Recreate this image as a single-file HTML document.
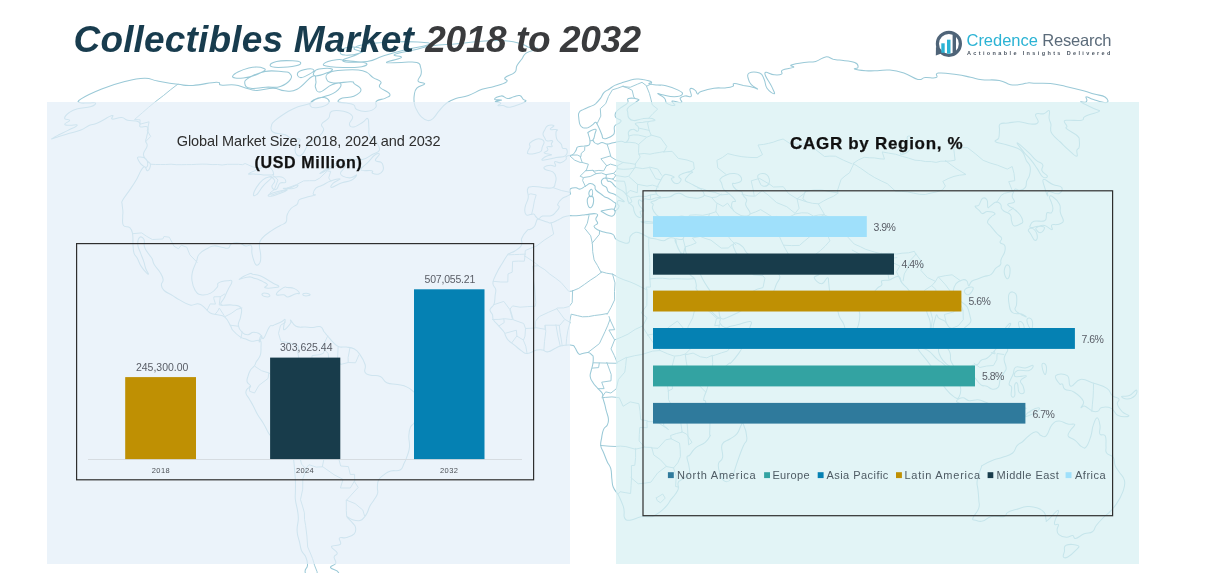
<!DOCTYPE html>
<html lang="en">
<head>
<meta charset="utf-8">
<title>Collectibles Market 2018 to 2032</title>
<style>
html,body{margin:0;padding:0;background:#fff;}
body{width:1231px;height:573px;position:relative;overflow:hidden;font-family:"Liberation Sans",Arial,sans-serif;}
.abs{position:absolute;white-space:nowrap;line-height:1;}
#map{position:absolute;left:0;top:0;width:1231px;height:573px;}
.panel{position:absolute;}
#pl{left:47px;top:101.5px;width:522.5px;height:462px;background:rgba(227,238,248,0.72);}
#pr{left:616px;top:101.5px;width:523px;height:462px;background:rgba(215,240,242,0.72);}
.frame{position:absolute;border:1.3px solid #333;box-sizing:border-box;}
#fl{left:76px;top:243px;width:458.5px;height:237.5px;}
#fr{left:642.5px;top:189.5px;width:471px;height:327px;}
.bar{position:absolute;}
.dl{font-size:10.5px;color:#595d66;}
.yl{font-size:7.5px;color:#4a4f55;letter-spacing:0.4px;}
.lg{font-size:11px;color:#4d5a63;}
.mk{position:absolute;width:6px;height:6px;top:472px;}
</style>
</head>
<body>
<!--MAPSTART--><svg id="map" width="1231" height="573" viewBox="0 0 1231 573" fill="none" stroke-linejoin="round" stroke-linecap="round">
<path stroke="#9ac9d7" stroke-width="1.05" d="M349.1 47.2C354.3 46.6 360.2 47.8 362.8 49.1C365.3 50.5 364.2 51.5 360.1 52.9C356.0 54.3 349.7 55.4 345.1 55.1C340.6 54.7 339.6 53.3 340.5 51.4C341.4 49.6 343.9 47.7 349.1 47.2Z M358.4 70.1C363.4 70.6 363.3 70.7 366.8 72.4C370.2 74.2 369.9 75.4 373.1 77.6C376.4 79.8 379.3 79.6 380.8 81.8C382.4 84.0 377.8 84.4 379.8 87.2C381.9 89.9 388.3 91.2 389.6 93.7C391.0 96.3 388.6 96.4 385.5 98.1C382.5 99.9 378.8 98.9 376.5 101.1C374.2 103.3 377.7 105.2 375.6 107.5C373.5 109.9 371.9 110.9 367.4 111.3C363.0 111.8 359.9 110.9 356.7 109.4C353.5 107.9 356.2 106.4 353.7 104.9C351.3 103.4 349.8 103.7 346.2 103.0C342.6 102.3 339.2 103.0 338.3 101.9C337.4 100.7 338.8 99.4 342.4 98.1C346.0 96.8 349.4 98.2 353.8 96.3C358.1 94.4 360.9 92.9 361.0 90.1C361.2 87.2 356.9 85.9 354.5 83.9C352.1 82.0 355.7 82.1 350.8 81.8C345.8 81.6 339.1 83.6 333.4 82.9C327.7 82.1 327.2 81.1 326.4 78.7C325.5 76.2 325.4 74.4 329.8 72.4C334.2 70.4 338.7 70.6 345.4 70.1C352.0 69.5 353.4 69.5 358.4 70.1Z M232.7 75.9C233.9 73.6 241.5 69.8 248.8 68.0C256.1 66.3 261.2 67.2 263.9 68.4C266.6 69.6 265.0 70.9 260.2 73.1C255.4 75.4 249.8 77.3 243.4 78.0C237.0 78.6 231.4 78.2 232.7 75.9Z M239.4 279.1C240.5 278.1 246.4 274.9 249.5 273.7C252.7 272.6 250.4 273.7 252.8 274.2C255.3 274.6 256.7 274.4 260.1 275.7C263.4 276.9 263.9 277.7 267.0 279.5C270.0 281.3 270.5 281.8 273.2 283.3C275.9 284.8 278.2 285.1 278.7 286.1C279.1 287.1 278.4 287.2 275.3 287.6C272.1 288.0 267.0 288.5 265.1 287.8C263.3 287.1 267.9 286.0 267.4 284.6C266.9 283.1 264.8 282.7 263.0 281.6C261.1 280.5 261.5 280.7 259.4 279.9C257.4 279.1 256.2 278.9 254.1 278.2C252.0 277.5 252.7 277.0 250.5 276.9C248.4 276.8 247.4 277.3 244.8 277.8C242.2 278.3 238.3 280.0 239.4 279.1Z M323.6 64.0C322.3 65.6 325.6 65.9 330.8 66.7C335.9 67.5 338.3 67.4 345.5 67.4C352.8 67.4 357.1 67.7 361.7 66.7C366.4 65.7 368.7 64.4 365.5 63.1C362.3 61.7 354.6 61.5 347.9 60.8C341.1 60.0 342.2 59.0 336.5 59.8C330.9 60.6 325.0 62.4 323.6 64.0Z M342.8 60.8C344.5 62.7 357.8 62.5 367.2 61.4C376.6 60.3 374.5 58.7 383.1 56.0C391.8 53.3 393.6 52.7 404.3 50.0C414.9 47.3 425.7 46.4 428.9 44.5C432.1 42.6 426.9 42.6 418.0 42.0C409.2 41.4 403.4 41.4 391.0 42.0C378.5 42.6 373.2 43.0 364.6 44.5C356.1 46.0 355.2 46.6 354.1 48.6C353.1 50.5 362.7 50.1 360.1 52.9C357.4 55.8 341.2 58.8 342.8 60.8Z M386.4 62.4C386.3 61.3 399.3 59.4 401.2 57.6C403.1 55.7 391.7 56.2 394.6 54.5C397.5 52.7 405.0 52.0 413.8 50.0C422.5 48.0 422.0 47.3 432.1 45.8C442.2 44.4 445.5 44.8 457.1 43.7C468.7 42.7 470.7 41.9 481.8 41.2C492.8 40.5 495.4 40.2 504.5 40.8C513.7 41.3 515.3 42.2 521.0 43.7C526.6 45.2 524.8 46.0 528.7 47.2C532.6 48.3 538.1 47.2 537.6 48.6C537.0 49.9 530.2 50.5 526.5 52.9C522.8 55.4 524.0 56.2 521.7 59.2C519.5 62.1 518.5 62.6 516.9 65.7C515.3 68.8 517.5 69.7 514.7 72.4C512.0 75.2 507.0 75.4 505.1 77.6C503.2 79.8 509.1 79.8 506.5 81.8C504.0 83.9 499.8 84.7 494.1 86.4C488.4 88.2 488.0 87.2 482.0 89.3C476.0 91.5 474.5 93.4 468.4 95.6C462.3 97.7 460.9 96.8 455.8 98.5C450.8 100.3 450.7 100.2 446.8 103.0C442.9 105.8 442.5 107.0 439.3 110.6C436.1 114.2 435.9 115.9 433.2 118.3C430.5 120.6 430.4 120.9 427.7 120.6C425.0 120.4 424.1 119.5 421.6 117.1C419.1 114.8 418.7 113.7 417.0 110.6C415.3 107.5 415.0 107.3 414.4 103.8C413.7 100.2 413.7 99.2 414.2 95.6C414.8 91.9 414.3 91.0 416.8 88.2C419.2 85.5 424.4 85.6 424.7 83.9C425.0 82.3 419.0 83.4 418.1 81.1C417.3 78.8 420.6 77.4 421.1 74.1C421.7 70.9 421.6 70.1 420.6 67.4C419.6 64.6 421.2 63.6 416.8 62.4C412.4 61.2 408.7 62.4 401.6 62.4C394.5 62.4 386.5 63.5 386.4 62.4Z M276.3 294.4C276.2 292.7 280.9 289.1 283.5 287.6C286.2 286.0 285.2 287.4 287.6 287.6C290.1 287.8 291.2 287.1 293.9 288.4C296.7 289.7 299.1 291.8 299.4 293.1C299.7 294.4 297.8 293.0 295.1 293.9C292.5 294.8 290.7 296.7 288.0 296.9C285.4 297.1 286.5 295.4 283.8 294.8C281.0 294.2 276.4 296.1 276.3 294.4Z M262.1 293.9C262.7 293.2 265.6 293.0 267.4 293.5C269.2 294.0 270.3 295.4 269.7 296.1C269.1 296.8 266.5 297.0 264.7 296.5C263.0 296.0 261.4 294.6 262.1 293.9Z M270.2 65.7C270.6 67.1 272.2 67.4 278.2 67.4C284.2 67.4 290.8 66.9 295.9 65.7C301.1 64.5 301.1 63.5 300.4 62.4C299.6 61.2 298.2 61.0 292.6 60.8C287.0 60.5 281.8 60.3 276.5 61.4C271.3 62.6 269.8 64.3 270.2 65.7Z M81.1 98.9C86.1 95.7 91.7 93.0 101.7 89.0C111.6 85.0 113.9 84.3 123.9 81.8C133.9 79.3 136.5 78.5 144.4 78.3C152.3 78.1 149.9 79.7 157.7 81.1C165.5 82.5 169.6 83.3 177.9 84.3C186.1 85.3 184.0 85.9 193.0 85.4C202.0 84.9 209.8 82.3 216.4 82.2C222.9 82.1 216.8 84.4 221.1 85.0C225.4 85.7 229.2 84.3 234.9 85.0C240.6 85.7 240.4 86.6 245.5 87.9C250.6 89.2 250.4 90.3 256.8 90.4C263.2 90.5 266.6 88.2 273.0 88.2C279.5 88.3 278.9 90.5 284.5 90.8C290.2 91.0 290.6 92.7 297.1 89.3C303.7 85.9 308.2 78.1 312.6 76.2C317.0 74.3 315.2 78.5 315.9 81.1C316.6 83.8 314.5 85.0 315.5 87.5C316.5 90.0 316.4 92.6 320.2 91.9C324.0 91.2 327.1 86.5 331.9 84.7C336.7 82.8 339.9 82.3 340.8 83.9C341.7 85.6 339.4 89.0 335.7 91.9C332.1 94.8 329.9 94.6 325.2 96.3C320.5 98.0 319.4 97.5 315.6 99.3C311.9 101.0 313.3 102.0 309.2 103.8C305.1 105.5 302.9 105.0 298.0 106.8C293.2 108.5 293.7 108.2 288.4 111.3C283.2 114.5 279.4 117.0 275.5 120.2C271.5 123.5 272.2 122.6 271.6 125.3C271.0 128.1 269.7 129.8 272.9 132.0C276.0 134.3 280.6 133.2 285.1 134.8C289.5 136.4 288.5 137.7 292.0 138.8C295.5 139.9 299.3 137.5 300.1 139.6C300.8 141.8 296.0 144.5 295.3 148.1C294.6 151.7 295.4 153.6 297.0 155.0C298.6 156.5 299.6 156.8 302.4 154.2C305.1 151.7 304.9 148.0 308.6 144.1C312.4 140.1 314.9 140.5 318.3 137.2C321.8 133.9 322.8 133.1 323.6 130.1C324.4 127.0 320.5 126.9 321.7 124.1C322.9 121.4 326.2 121.3 328.5 118.3C330.9 115.3 328.2 113.0 331.7 111.3C335.2 109.7 338.7 110.2 343.6 111.3C348.4 112.5 351.1 113.4 352.5 116.4C353.8 119.3 349.0 121.7 349.4 124.1C349.7 126.6 350.9 127.3 354.0 126.9C357.1 126.4 359.6 124.1 362.8 122.2C366.0 120.3 366.3 117.3 367.8 118.7C369.2 120.1 368.4 124.0 368.9 128.1C369.3 132.1 367.9 132.8 369.6 136.0C371.4 139.3 374.1 138.7 376.4 142.0C378.6 145.3 380.2 147.3 379.4 150.1C378.5 153.0 376.8 152.0 372.8 154.2C368.9 156.4 367.9 158.4 362.4 159.5C357.0 160.7 355.1 158.5 349.4 159.1C343.7 159.8 343.2 160.2 338.0 162.4C332.8 164.6 331.3 166.0 327.1 168.6C322.8 171.2 319.6 173.4 319.9 173.6C320.3 173.8 324.5 171.4 328.4 169.5C332.3 167.5 332.8 166.6 336.8 165.3C340.8 164.1 344.0 163.3 345.7 164.1C347.3 164.8 345.0 166.6 343.8 168.6C342.7 170.7 340.8 171.0 340.6 172.8C340.3 174.5 340.4 174.9 342.7 176.1C345.0 177.3 347.3 178.1 350.6 177.8C353.9 177.5 356.5 174.3 356.7 174.9C356.9 175.4 354.9 178.4 351.4 180.3C348.0 182.1 346.6 181.1 342.0 182.8C337.4 184.4 333.7 187.3 331.7 187.4C329.7 187.5 331.3 185.2 333.2 183.2C335.2 181.3 340.5 179.5 339.9 179.0C339.3 178.5 334.7 179.7 330.6 181.1C326.5 182.6 325.6 183.6 322.2 185.3C318.7 187.0 318.0 186.3 315.9 188.2C313.8 190.2 313.3 192.1 313.1 193.7C312.9 195.3 316.4 194.2 315.1 195.0C313.7 195.8 311.0 196.0 307.3 197.1C303.7 198.2 301.8 197.9 299.4 199.6C297.0 201.3 299.0 202.2 297.1 204.3C295.1 206.3 293.3 206.0 291.0 208.5C288.7 211.0 288.3 211.7 287.2 214.8C286.0 218.0 287.6 219.6 286.0 222.1C284.4 224.5 283.7 223.5 280.3 225.5C277.0 227.4 275.8 227.6 271.6 230.6C267.4 233.5 265.0 234.9 262.2 238.2C259.4 241.5 259.8 240.6 259.4 244.6C259.1 248.6 260.6 251.1 260.7 255.2C260.8 259.4 261.0 260.2 260.0 262.5C258.9 264.8 257.7 265.7 256.2 265.0C254.7 264.3 254.5 262.3 253.5 259.5C252.5 256.7 252.5 256.4 251.9 253.1C251.4 249.8 252.7 247.1 251.2 245.5C249.7 243.8 248.4 246.5 245.6 245.9C242.7 245.3 242.3 243.4 239.0 242.9C235.7 242.4 233.9 242.6 231.5 243.8C229.0 244.9 230.4 247.1 228.5 248.0C226.5 248.9 226.4 248.1 223.1 247.6C219.8 247.1 217.8 245.8 214.4 245.9C210.9 246.0 211.8 246.1 208.3 248.0C204.8 249.9 202.1 250.8 199.4 254.0C196.6 257.1 198.0 257.3 196.4 261.6C194.8 265.9 193.4 267.8 192.4 272.2C191.4 276.7 191.4 276.6 192.0 280.8C192.6 284.9 192.9 286.8 195.0 290.1C197.1 293.4 197.4 294.1 201.0 294.8C204.7 295.5 206.9 294.9 210.7 293.1C214.5 291.3 215.4 289.5 217.2 287.1C219.1 284.8 216.2 284.4 218.6 282.9C221.0 281.4 224.4 281.1 227.5 280.8C230.6 280.5 231.8 279.6 231.9 281.6C232.0 283.6 229.9 285.5 228.2 289.3C226.4 293.0 225.9 294.2 224.3 297.8C222.7 301.3 219.4 302.9 221.1 304.6C222.8 306.3 227.1 304.3 231.6 305.0C236.2 305.7 238.7 304.8 240.8 307.6C242.9 310.3 241.1 312.7 240.6 316.9C240.0 321.1 237.9 321.7 238.3 325.4C238.7 329.1 240.1 330.5 242.4 332.6C244.6 334.8 245.3 334.9 247.9 334.8C250.6 334.7 250.7 332.0 253.8 332.2C256.9 332.4 259.9 333.4 261.2 335.6C262.5 337.8 260.0 340.5 259.3 341.6C258.7 342.7 260.1 340.4 258.3 340.3C256.4 340.2 254.3 341.4 251.4 341.2C248.5 340.9 248.4 340.0 245.8 339.0C243.2 338.0 243.2 338.9 240.2 336.9C237.2 334.9 235.3 333.2 233.0 330.5C230.7 327.8 232.3 328.6 230.3 325.4C228.4 322.2 227.7 319.4 224.6 316.9C221.6 314.4 220.7 315.8 217.3 314.8C213.9 313.8 213.2 314.6 209.9 312.7C206.7 310.7 206.0 308.4 203.2 306.3C200.3 304.2 200.9 304.0 197.8 303.7C194.8 303.4 194.4 305.9 190.1 305.0C185.9 304.1 183.6 302.1 179.6 299.9C175.5 297.7 176.3 297.8 172.7 295.6C169.1 293.5 166.8 293.0 164.1 290.5C161.5 288.1 161.6 287.6 161.4 285.0C161.1 282.4 163.4 282.5 163.1 279.5C162.8 276.5 162.0 275.7 160.0 272.2C157.9 268.8 156.1 267.8 154.2 264.6C152.3 261.4 153.4 261.3 152.0 258.6C150.5 256.0 149.7 255.9 148.0 253.1C146.2 250.3 145.3 249.9 144.4 246.7C143.5 243.6 145.1 241.7 144.0 239.5C142.9 237.3 141.1 236.2 139.6 237.4C138.2 238.6 137.6 240.9 137.8 244.6C138.0 248.3 139.2 249.1 140.6 253.1C142.0 257.1 142.6 257.9 143.8 261.6C145.0 265.3 144.7 266.0 145.8 268.8C146.9 271.7 148.4 273.2 148.5 274.0C148.5 274.7 147.6 274.1 145.8 272.2C144.1 270.4 142.9 269.1 140.9 265.9C138.9 262.6 138.9 261.2 137.3 258.2C135.7 255.2 135.0 256.3 134.0 253.1C133.0 249.9 133.3 249.1 133.0 244.6C132.7 240.1 133.3 237.9 132.6 234.0C131.8 230.0 131.9 229.6 129.8 227.6C127.6 225.6 125.1 227.9 123.5 225.5C121.8 223.0 122.8 220.2 122.7 217.0C122.6 213.7 123.1 214.4 122.9 211.5C122.8 208.5 122.2 206.8 122.1 204.3C122.1 201.7 121.0 203.4 122.5 200.5C124.0 197.5 125.5 196.1 128.6 191.6C131.6 187.1 132.2 186.8 135.6 181.1C139.0 175.5 140.5 169.8 143.3 167.4C146.1 164.9 146.0 171.4 147.7 170.7C149.3 170.0 150.6 166.9 150.4 164.5C150.2 162.1 148.4 162.8 146.8 160.4C145.2 158.0 143.3 157.5 143.4 154.2C143.5 150.9 146.6 149.1 147.1 146.1C147.7 143.0 145.8 143.6 145.7 141.2C145.6 138.9 146.4 139.3 146.8 136.0C147.3 132.8 149.2 129.4 147.7 127.3C146.2 125.2 142.1 127.9 140.3 126.9C138.5 125.9 140.9 124.3 139.9 123.0C138.9 121.6 138.8 121.6 135.9 121.0C133.0 120.4 130.9 121.0 127.6 120.2C124.3 119.4 125.2 117.8 121.6 117.5C118.0 117.2 114.5 119.5 112.2 119.1C109.9 118.6 115.3 114.7 111.9 115.6C108.4 116.5 102.8 120.7 97.5 123.0C92.3 125.2 93.4 123.7 89.5 125.3C85.7 127.0 85.6 128.2 80.9 130.1C76.2 131.9 75.0 131.6 69.4 133.2C63.8 134.9 61.1 135.9 57.0 137.2C52.8 138.5 51.2 139.4 51.6 138.8C52.1 138.3 55.0 136.8 58.8 134.8C62.6 132.9 63.7 132.7 68.0 130.4C72.3 128.2 76.8 126.5 77.2 125.3C77.5 124.1 72.4 125.6 69.5 125.3C66.6 125.0 64.7 125.3 64.8 124.1C64.8 123.0 69.7 121.6 69.7 120.2C69.7 118.9 64.7 120.1 64.6 118.3C64.5 116.5 66.3 114.7 69.3 112.5C72.3 110.3 72.5 110.0 77.5 108.7C82.4 107.3 86.2 108.1 90.4 106.8C94.6 105.5 96.0 103.9 95.5 103.0C95.0 102.1 91.9 103.1 88.3 103.0C84.6 102.9 81.7 103.6 80.0 102.6C78.4 101.7 76.1 102.1 81.1 98.9Z M360.9 169.9C360.0 167.9 364.7 165.9 367.9 162.4C371.2 159.0 372.1 156.9 374.8 155.0C377.4 153.1 379.2 153.0 379.4 154.2C379.5 155.5 374.9 158.4 375.4 160.4C375.8 162.3 379.4 161.0 381.2 162.4C383.1 163.9 382.8 164.6 383.2 166.6C383.5 168.5 383.8 169.0 382.8 170.7C381.8 172.4 381.4 173.4 379.0 174.0C376.6 174.6 374.2 174.0 372.5 173.2C370.8 172.4 374.4 171.5 371.7 170.7C369.0 169.9 361.7 171.8 360.9 169.9Z M298.1 72.4C296.5 74.4 297.8 77.2 300.4 77.6C303.1 78.0 306.3 75.9 309.4 74.1C312.6 72.4 314.4 71.2 313.9 70.1C313.4 68.9 311.0 68.5 307.3 69.0C303.6 69.6 299.7 70.4 298.1 72.4Z M303.8 293.5C305.2 293.1 308.3 293.4 309.4 293.9C310.6 294.4 310.2 295.2 308.9 295.6C307.5 296.0 304.8 296.1 303.6 295.6C302.4 295.1 302.5 293.9 303.8 293.5Z M261.2 335.6C262.2 334.8 261.8 340.2 263.7 338.2C265.6 336.2 267.1 330.1 269.3 327.1C271.5 324.1 270.5 326.6 273.2 325.4C276.0 324.2 278.3 323.4 281.1 322.0C283.8 320.6 284.4 318.7 285.1 319.5C285.7 320.3 284.0 323.0 283.9 325.4C283.7 327.8 282.8 330.2 284.3 329.7C285.9 329.2 289.0 325.5 290.5 323.3C291.9 321.1 289.4 319.6 290.7 320.3C292.0 321.0 292.5 324.7 296.0 326.3C299.4 327.9 301.4 326.8 305.4 327.1C309.4 327.4 309.4 327.6 313.0 327.5C316.5 327.4 318.0 325.7 320.6 326.7C323.2 327.7 322.5 329.6 324.1 331.8C325.8 334.0 325.6 333.6 327.7 336.0C329.8 338.5 330.6 339.9 333.2 342.4C335.7 344.9 335.7 345.6 338.7 346.7C341.8 347.8 342.8 346.6 346.4 347.1C349.9 347.6 350.9 347.2 353.9 348.8C357.0 350.4 356.9 350.2 359.5 353.9C362.1 357.6 363.8 360.3 365.1 364.5C366.3 368.8 363.7 369.7 365.0 372.2C366.3 374.7 367.2 374.2 370.7 375.2C374.3 376.2 376.5 374.7 380.3 376.5C384.0 378.2 382.8 380.9 386.8 382.8C390.9 384.7 392.8 383.5 397.5 384.5C402.3 385.5 403.1 385.2 407.1 387.1C411.2 389.0 411.5 390.6 414.8 392.6C418.2 394.6 419.4 392.9 421.4 395.6C423.4 398.3 423.1 400.6 423.5 404.1C423.8 407.6 424.3 407.5 422.9 410.5C421.5 413.5 419.5 413.9 417.4 416.9C415.3 419.8 415.5 420.8 413.9 423.2C412.2 425.7 411.4 424.5 410.3 427.5C409.1 430.5 409.0 431.5 408.8 436.0C408.7 440.5 409.8 442.2 409.5 446.6C409.2 451.1 408.8 451.2 407.5 455.1C406.2 459.1 405.8 460.2 404.0 463.6C402.3 467.1 403.2 468.3 400.1 470.0C397.0 471.7 394.5 469.9 390.8 470.9C387.2 471.9 387.3 472.2 384.5 474.3C381.6 476.4 380.4 476.8 378.7 479.8C377.1 482.8 377.7 483.9 377.4 487.0C377.1 490.2 378.3 490.4 377.6 493.4C376.8 496.4 376.0 496.8 374.1 499.8C372.3 502.8 371.4 503.2 369.8 506.2C368.2 509.2 368.6 510.1 367.3 512.6C366.1 515.0 366.3 514.9 364.6 516.8C362.9 518.7 362.8 519.9 360.0 520.6C357.2 521.3 355.7 520.7 352.6 519.8C349.6 518.9 346.9 516.0 346.9 516.8C346.9 517.6 350.7 520.7 352.7 523.2C354.7 525.7 355.1 525.0 355.5 527.4C355.9 529.9 356.4 531.4 354.2 533.8C352.1 536.2 349.9 536.6 346.4 537.6C343.0 538.6 340.9 536.5 339.5 538.0C338.0 539.6 342.2 542.4 340.3 544.4C338.5 546.3 332.3 544.5 331.5 546.5C330.8 548.4 336.5 550.3 337.2 552.8C337.8 555.3 334.5 554.6 334.1 557.0C333.8 559.4 336.6 560.8 335.7 563.3C334.9 565.7 329.8 565.3 330.5 567.5C331.1 569.6 337.3 569.6 338.5 572.5C339.7 575.4 336.7 576.7 335.5 579.9C334.3 583.1 332.6 582.9 333.2 586.1C333.9 589.3 336.7 591.1 338.3 593.5C340.0 595.8 336.7 594.1 340.4 596.3C344.0 598.5 352.5 600.6 353.9 603.0C355.4 605.3 349.8 605.8 346.4 606.4C343.1 607.0 343.1 606.5 339.7 605.6C336.2 604.6 335.7 604.5 331.6 602.4C327.4 600.2 325.9 599.6 321.9 596.3C317.9 593.0 317.5 592.0 314.4 588.1C311.4 584.3 311.0 583.8 308.8 579.9C306.6 576.1 305.4 575.0 305.1 571.6C304.8 568.2 307.3 568.8 307.5 565.4C307.7 562.0 307.2 560.4 305.8 557.0C304.5 553.6 303.1 554.1 301.6 550.7C300.2 547.3 300.5 546.2 299.6 542.3C298.6 538.3 298.0 537.3 297.4 533.8C296.9 530.3 297.0 530.9 297.2 527.4C297.4 524.0 298.3 522.9 298.3 518.9C298.4 515.0 298.2 514.9 297.5 510.4C296.8 506.0 295.9 504.3 295.4 499.8C294.9 495.3 295.4 495.8 295.4 491.3C295.4 486.8 295.6 485.6 295.4 480.7C295.2 475.7 295.0 475.0 294.6 470.0C294.1 465.1 294.2 464.0 293.6 459.4C292.9 454.8 293.3 453.4 291.8 450.5C290.3 447.5 290.1 448.7 287.2 446.6C284.2 444.5 282.9 444.0 279.1 441.5C275.3 439.0 273.6 438.5 270.9 436.0C268.2 433.5 269.2 433.9 267.4 430.9C265.6 427.9 265.6 427.0 263.3 423.2C261.1 419.5 260.1 418.7 257.7 414.7C255.4 410.8 255.4 409.9 253.4 406.2C251.5 402.6 251.0 402.0 249.3 399.0C247.5 396.0 246.5 395.7 246.0 393.5C245.5 391.2 245.9 390.9 247.0 389.2C248.1 387.5 250.7 387.9 250.7 386.2C250.8 384.5 247.9 384.3 247.2 382.0C246.5 379.7 247.1 379.2 247.9 376.5C248.6 373.7 249.0 372.6 250.5 370.1C252.0 367.6 253.0 367.8 254.4 365.8C255.7 363.8 255.0 364.0 256.4 361.6C257.8 359.1 259.3 358.7 260.3 355.2C261.4 351.7 260.9 350.0 261.0 346.7C261.2 343.4 261.3 342.3 260.9 341.2C260.5 340.0 259.3 342.9 259.3 341.6C259.4 340.3 260.2 336.4 261.2 335.6Z M319.0 69.0C323.2 68.3 330.3 68.1 332.0 69.0C333.8 70.0 330.3 71.5 326.4 73.1C322.6 74.7 318.6 76.0 315.6 75.9C312.7 75.7 313.1 74.0 313.9 72.4C314.7 70.8 314.8 69.8 319.0 69.0Z M313.6 100.0C316.9 98.0 320.8 96.7 324.3 97.4C327.8 98.1 330.2 100.6 328.7 103.0C327.3 105.4 322.4 106.8 318.1 107.5C313.8 108.2 311.4 107.8 310.4 106.0C309.3 104.3 310.4 102.0 313.6 100.0Z M138.5 157.1C140.2 156.8 144.0 156.9 146.1 159.1C148.1 161.3 148.0 165.0 147.2 166.6C146.4 168.1 144.8 167.2 142.8 165.7C140.8 164.3 139.5 162.4 138.5 160.4C137.5 158.3 136.7 157.4 138.5 157.1Z M249.2 77.6C254.0 74.8 257.2 72.8 265.1 71.4C272.9 70.0 277.4 71.4 283.1 71.8C288.7 72.2 287.6 71.3 289.4 73.1C291.1 74.9 292.6 76.2 290.5 79.4C288.4 82.5 286.2 84.6 280.4 86.4C274.6 88.3 272.7 86.7 265.8 87.2C258.8 87.6 255.6 89.1 250.7 88.2C245.8 87.4 245.2 86.1 244.8 83.6C244.5 81.1 244.5 80.4 249.2 77.6Z M537.0 219.9C538.1 218.4 536.7 219.0 539.2 219.5C541.6 220.0 544.6 221.3 547.3 222.1C550.0 222.9 548.3 223.4 550.8 222.9C553.4 222.4 555.2 221.3 558.1 219.9C561.1 218.6 561.1 218.0 563.6 217.0C566.1 216.0 566.1 216.0 569.0 215.7C571.9 215.4 572.4 215.9 576.1 215.7C579.9 215.5 580.9 215.3 585.1 214.8C589.2 214.4 591.1 213.6 594.0 213.6C596.9 213.6 597.1 213.6 597.6 214.8C598.0 216.1 595.8 217.1 595.8 219.1C595.8 221.1 598.0 221.7 597.6 223.3C597.2 225.0 594.0 224.8 594.0 226.3C594.0 227.8 595.1 228.3 597.6 229.7C600.2 231.1 601.3 231.2 604.9 232.3C608.4 233.4 610.3 232.8 612.9 234.4C615.5 236.0 613.5 237.2 615.9 239.1C618.3 241.0 620.3 241.7 623.3 242.5C626.3 243.3 627.1 244.0 628.8 242.5C630.4 241.0 628.8 238.5 630.4 236.1C632.0 233.7 633.2 232.9 635.7 232.3C638.2 231.7 638.2 232.4 641.2 233.5C644.2 234.7 645.2 236.1 648.7 237.4C652.1 238.7 652.6 238.3 656.0 239.1C659.5 239.9 660.9 240.8 663.4 240.8C666.0 240.8 665.3 239.8 667.0 239.1C668.6 238.4 668.6 237.8 670.5 237.8C672.5 237.8 673.9 237.4 675.4 239.1C676.8 240.8 675.6 241.8 676.8 245.0C678.1 248.3 679.2 249.7 680.6 253.1C682.0 256.5 681.3 256.0 682.8 259.5C684.3 263.0 685.3 264.5 686.9 268.0C688.6 271.5 688.1 271.9 689.8 274.4C691.6 276.9 693.0 276.1 694.5 278.6C696.0 281.1 695.8 282.5 696.3 285.0C696.7 287.5 695.3 286.8 696.4 289.3C697.6 291.7 699.1 291.7 701.2 295.6C703.3 299.6 703.1 302.6 705.4 306.3C707.7 309.9 708.5 308.9 711.3 311.4C714.0 313.9 715.0 315.1 717.1 316.9C719.2 318.7 719.6 317.5 720.2 319.0C720.9 320.5 718.8 321.3 720.0 323.3C721.1 325.3 722.5 326.8 725.0 327.5C727.5 328.2 727.6 327.0 730.7 326.3C733.8 325.6 733.7 325.7 738.2 324.6C742.8 323.5 747.6 320.8 750.3 321.6C752.9 322.4 750.7 324.1 749.7 328.0C748.8 331.8 747.9 333.8 746.2 338.2C744.5 342.5 744.3 343.2 742.6 346.7C740.9 350.2 741.5 349.4 738.9 353.1C736.3 356.7 733.7 359.9 731.4 362.4C729.0 364.9 730.9 361.9 728.7 363.7C726.5 365.5 724.8 367.3 721.9 370.1C718.9 372.9 718.4 373.1 716.1 375.6C713.9 378.1 714.1 378.5 712.3 380.7C710.5 382.9 709.7 382.9 708.4 385.0C707.2 387.0 708.0 386.4 706.9 389.6C705.8 392.9 704.0 396.2 703.7 399.0C703.4 401.8 705.0 399.4 705.6 401.5C706.2 403.7 705.7 405.0 706.2 408.4C706.8 411.7 707.1 413.5 708.0 416.0C708.8 418.5 709.4 414.8 709.8 419.0C710.2 423.2 709.7 429.9 709.7 433.9C709.8 437.8 711.1 434.0 710.0 436.0C709.0 438.0 708.6 439.6 705.2 442.4C701.9 445.2 699.2 444.9 695.6 447.9C692.0 450.9 691.7 453.0 689.7 455.1C687.7 457.3 687.2 454.8 687.0 457.3C686.8 459.7 688.4 461.8 688.9 465.8C689.3 469.7 690.7 471.0 688.9 474.3C687.1 477.6 683.7 477.8 681.2 479.8C678.7 481.8 678.8 480.6 678.1 482.8C677.4 485.0 678.9 486.4 678.2 489.2C677.4 491.9 676.6 492.3 674.9 494.7C673.2 497.1 672.8 496.9 671.0 499.4C669.1 501.9 669.4 502.4 667.0 505.3C664.5 508.2 663.5 509.2 660.4 511.7C657.3 514.2 656.0 514.8 653.7 516.0C651.3 517.2 653.3 516.6 650.4 516.8C647.4 517.0 645.7 516.0 641.0 516.8C636.2 517.6 633.8 519.9 630.0 520.2C626.2 520.5 626.0 520.2 624.7 518.1C623.3 516.0 624.5 514.1 624.1 511.3C623.8 508.5 624.2 509.4 623.2 506.2C622.1 503.0 621.0 500.5 619.7 497.7C618.4 494.8 619.1 496.3 617.6 493.8C616.0 491.4 614.6 490.6 613.2 487.0C611.9 483.5 612.4 482.8 611.8 478.5C611.3 474.3 611.9 472.7 610.8 468.7C609.7 464.8 608.8 465.4 607.1 461.5C605.4 457.6 604.9 455.8 603.4 452.2C601.9 448.5 601.2 449.1 600.8 445.8C600.3 442.5 600.9 441.9 601.6 438.1C602.2 434.4 602.1 432.7 603.5 429.6C604.8 426.5 606.1 427.4 607.3 424.9C608.4 422.5 608.7 422.4 608.4 419.0C608.2 415.6 607.0 414.0 606.2 410.5C605.3 407.0 605.5 407.1 604.7 404.1C603.9 401.1 603.3 400.2 602.8 397.7C602.2 395.2 603.5 395.6 602.4 393.5C601.2 391.3 600.0 390.9 597.8 388.4C595.6 385.8 594.6 385.2 592.9 382.4C591.1 379.6 590.5 379.3 590.2 376.5C589.8 373.6 590.7 373.1 591.3 370.1C592.0 367.1 592.4 366.7 592.9 363.7C593.3 360.7 593.4 359.3 593.2 357.3C593.1 355.3 593.2 356.3 592.1 355.2C590.9 354.1 590.5 353.0 588.3 352.6C586.1 352.2 584.8 353.2 582.6 353.5C580.3 353.8 580.5 355.3 578.7 353.9C577.0 352.5 576.3 349.5 574.9 347.5C573.6 345.5 574.5 346.0 573.0 345.4C571.6 344.8 571.5 344.9 568.9 345.0C566.2 345.1 564.6 345.1 561.6 345.8C558.6 346.5 559.0 346.6 555.9 348.0C552.8 349.3 551.4 351.3 548.3 351.8C545.1 352.3 545.2 350.5 542.5 350.1C539.9 349.7 540.4 349.3 536.8 350.1C533.3 350.9 530.8 353.3 527.3 353.5C523.7 353.7 524.5 352.8 521.6 350.9C518.7 349.0 517.9 347.9 514.8 345.4C511.7 342.9 510.5 342.5 508.4 340.3C506.2 338.1 506.8 338.0 505.7 336.0C504.7 334.1 505.5 334.1 503.9 331.8C502.4 329.5 501.5 329.0 499.1 326.3C496.7 323.5 495.1 322.6 493.5 319.9C492.0 317.2 493.3 317.2 492.5 314.8C491.7 312.4 489.7 312.2 490.0 309.7C490.4 307.2 492.8 307.4 494.0 304.1C495.2 300.9 494.7 299.1 495.1 295.6C495.5 292.2 496.2 292.2 495.7 289.3C495.2 286.3 492.6 286.9 492.9 282.9C493.3 278.9 495.0 276.7 497.1 272.2C499.2 267.8 499.6 267.7 502.0 263.7C504.4 259.8 505.5 257.6 507.3 255.2C509.0 252.9 507.8 254.5 509.6 253.5C511.3 252.5 512.3 252.6 514.9 251.0C517.4 249.4 518.9 248.7 520.6 246.7C522.2 244.7 521.6 244.5 521.9 242.5C522.2 240.5 520.6 241.0 521.8 238.2C523.0 235.4 525.0 232.6 527.0 230.6C529.0 228.5 528.6 230.3 530.3 229.3C532.1 228.3 532.9 228.5 534.5 226.3C536.0 224.1 535.9 221.5 537.0 219.9Z M758.4 174.9C760.2 173.4 764.4 172.9 766.9 174.9C769.3 176.8 769.9 180.6 769.0 183.2C768.0 185.8 765.1 186.6 762.8 186.1C760.5 185.7 760.3 183.7 759.2 181.1C758.2 178.5 756.6 176.3 758.4 174.9Z M981.1 467.9C982.5 464.2 980.4 466.8 983.4 464.9C986.4 463.0 989.5 461.6 994.0 459.8C998.5 458.0 998.3 458.9 1002.6 457.3C1007.0 455.7 1009.4 455.7 1012.7 453.0C1016.1 450.3 1014.6 448.5 1016.9 445.8C1019.3 443.1 1020.1 443.8 1022.8 441.5C1025.6 439.2 1025.5 438.3 1028.6 436.0C1031.6 433.7 1033.0 431.8 1035.9 431.7C1038.9 431.6 1038.7 434.7 1041.1 435.6C1043.5 436.5 1043.9 438.1 1046.4 435.6C1048.9 433.1 1049.0 428.3 1051.9 424.9C1054.8 421.6 1055.1 421.3 1058.8 421.1C1062.5 420.9 1064.2 423.3 1067.9 424.1C1071.7 424.9 1074.0 423.2 1074.7 424.5C1075.4 425.8 1072.6 426.9 1071.0 429.6C1069.5 432.3 1067.3 433.5 1068.2 436.0C1069.2 438.5 1072.0 437.8 1075.1 440.3C1078.2 442.7 1078.9 445.1 1081.5 446.6C1084.2 448.1 1084.2 449.1 1086.4 446.6C1088.6 444.1 1089.3 441.0 1090.9 436.0C1092.5 431.0 1091.7 429.6 1093.2 425.4C1094.6 421.1 1095.5 417.7 1097.1 417.7C1098.7 417.7 1099.4 421.6 1100.0 425.4C1100.7 429.1 1098.7 431.4 1099.9 433.9C1101.2 436.4 1103.9 433.0 1105.3 436.0C1106.7 439.0 1105.7 442.7 1106.0 446.6C1106.3 450.6 1104.9 450.5 1106.6 453.0C1108.3 455.5 1111.2 454.3 1113.2 457.3C1115.2 460.2 1113.8 462.3 1115.2 465.8C1116.6 469.2 1117.1 468.7 1119.3 472.2C1121.5 475.6 1123.6 476.2 1124.5 480.7C1125.4 485.1 1124.9 485.8 1123.0 491.3C1121.1 496.7 1119.6 499.1 1116.3 504.1C1113.0 509.0 1111.8 509.6 1109.0 512.6C1106.1 515.5 1107.0 513.8 1104.1 516.8C1101.2 519.8 1099.1 521.8 1096.4 525.3C1093.7 528.8 1095.3 529.7 1092.4 531.7C1089.6 533.7 1088.1 532.2 1084.2 533.8C1080.2 535.4 1078.3 538.1 1075.6 538.5C1072.9 538.8 1074.8 535.8 1072.6 535.5C1070.5 535.2 1069.6 537.4 1066.4 537.2C1063.2 537.0 1061.0 536.4 1058.9 534.6C1056.7 532.9 1057.2 531.9 1057.1 529.6C1057.0 527.2 1059.1 525.9 1058.4 524.5C1057.8 523.0 1054.4 526.5 1054.4 523.2C1054.3 519.9 1059.9 511.1 1058.3 510.4C1056.8 509.7 1050.6 518.0 1047.8 520.2C1044.9 522.4 1046.9 521.6 1046.1 519.8C1045.4 518.0 1046.3 515.2 1044.4 512.6C1042.5 509.9 1041.9 509.7 1038.0 508.3C1034.2 506.9 1032.9 506.3 1027.7 506.6C1022.5 506.9 1020.5 508.2 1015.8 509.6C1011.0 511.0 1010.1 511.0 1007.4 512.6C1004.7 514.1 1007.9 515.5 1004.2 516.4C1000.5 517.3 996.6 515.3 991.5 516.4C986.5 517.5 986.3 520.2 982.6 521.1C978.9 522.0 978.0 520.9 975.7 520.2C973.5 519.5 972.2 520.9 972.9 518.1C973.6 515.3 977.3 512.6 978.7 508.3C980.1 504.0 978.9 504.3 978.8 499.8C978.6 495.3 978.3 493.6 977.9 489.2C977.5 484.7 976.5 485.6 977.2 480.7C978.0 475.7 979.6 471.6 981.1 467.9Z M902.0 154.2C903.6 154.0 905.1 154.1 907.4 152.2C909.7 150.3 910.9 149.4 911.8 146.1C912.7 142.8 912.4 140.2 911.4 138.0C910.4 135.9 908.4 135.4 907.4 136.8C906.5 138.2 908.2 141.2 907.3 144.1C906.5 146.9 905.4 146.8 903.9 148.9C902.3 151.0 901.1 151.7 900.7 153.0C900.3 154.2 900.5 154.4 902.0 154.2Z M971.8 365.8C973.1 364.0 975.3 365.8 977.5 364.5C979.7 363.3 979.0 361.8 981.2 360.3C983.4 358.8 984.2 359.9 986.9 358.2C989.5 356.5 989.8 355.7 992.4 353.1C995.0 350.4 995.7 349.2 997.8 346.7C999.9 344.2 999.2 341.9 1001.4 342.4C1003.7 342.9 1006.4 346.1 1007.5 348.8C1008.5 351.5 1006.6 351.4 1005.8 353.9C1005.0 356.4 1004.0 356.2 1004.1 359.4C1004.2 362.7 1006.1 365.0 1006.2 367.9C1006.2 370.9 1005.7 369.7 1004.3 372.2C1003.0 374.7 1001.8 375.1 1000.4 378.6C999.0 382.1 1000.1 384.6 998.3 387.1C996.4 389.6 995.1 389.4 992.5 389.2C989.8 389.0 989.5 387.2 986.9 386.2C984.2 385.2 983.8 386.7 981.2 385.0C978.6 383.2 977.8 381.6 975.6 378.6C973.4 375.6 972.8 375.2 971.9 372.2C971.0 369.2 970.5 367.6 971.8 365.8Z M726.2 174.9C729.5 173.6 731.2 173.4 734.4 173.6C737.6 173.8 738.4 173.9 739.9 175.7C741.5 177.4 742.1 179.4 741.1 181.1C740.1 182.9 737.7 182.5 735.7 183.2C733.7 183.9 732.4 182.6 732.4 184.0C732.5 185.5 733.8 187.7 735.9 189.5C738.0 191.3 739.8 190.1 741.5 191.6C743.3 193.1 742.2 193.8 743.4 195.8C744.6 197.8 746.1 197.9 746.6 200.0C747.2 202.2 745.0 201.9 745.8 205.1C746.6 208.3 750.5 211.0 750.1 213.6C749.7 216.1 747.2 216.2 744.1 216.1C740.9 216.0 739.2 214.9 736.5 213.1C733.7 211.4 733.2 211.1 732.2 208.5C731.2 205.9 731.5 203.9 732.2 202.1C733.0 200.4 736.1 202.6 735.5 200.9C735.0 199.1 732.6 197.2 729.9 194.5C727.1 191.9 725.7 192.1 723.8 189.5C721.9 186.9 722.5 185.7 721.6 183.2C720.8 180.8 719.1 181.0 720.2 179.0C721.3 177.1 722.9 176.1 726.2 174.9Z M589.1 192.0C589.6 190.4 591.2 188.7 591.9 189.5C592.7 190.3 592.7 193.8 592.3 195.4C591.8 197.0 590.5 197.0 589.8 196.2C589.1 195.4 588.6 193.6 589.1 192.0Z M642.5 221.2C644.7 221.1 650.3 221.6 652.6 222.1C654.9 222.6 654.6 223.2 652.3 223.3C650.0 223.4 645.2 223.0 642.9 222.5C640.6 222.0 640.2 221.3 642.5 221.2Z M674.2 223.3C675.7 222.2 680.5 220.3 681.9 220.4C683.3 220.5 681.8 222.7 680.4 223.8C679.0 224.9 677.2 225.1 675.8 225.0C674.4 224.9 672.8 224.4 674.2 223.3Z M526.2 214.8C524.2 213.4 524.5 211.6 525.0 207.6C525.4 203.7 527.6 202.2 528.2 197.9C528.8 193.7 526.7 192.1 527.5 189.5C528.4 186.8 528.5 187.0 532.0 186.6C535.4 186.1 537.4 187.1 542.2 187.4C547.0 187.7 549.5 188.8 552.6 187.8C555.6 186.8 554.4 185.7 555.2 183.2C556.0 180.7 556.5 179.6 555.9 176.9C555.4 174.3 555.3 173.7 552.8 171.9C550.3 170.2 547.1 170.7 545.3 169.5C543.4 168.2 543.6 167.5 544.8 166.6C546.0 165.6 548.1 165.4 550.6 165.3C553.1 165.2 554.5 167.0 555.5 166.1C556.5 165.3 553.6 162.4 554.8 161.6C556.0 160.8 558.2 163.3 560.7 162.8C563.3 162.4 564.5 161.1 565.9 159.5C567.3 158.0 565.1 157.4 566.7 156.3C568.3 155.1 570.5 156.0 572.7 154.6C574.9 153.2 574.9 151.9 576.1 150.1C577.3 148.3 575.9 147.8 577.8 146.9C579.8 145.9 581.7 146.5 584.3 146.1C587.0 145.6 587.9 146.3 589.2 144.9C590.5 143.4 590.1 142.6 589.9 140.0C589.7 137.5 588.6 135.9 588.3 134.0C588.1 132.2 587.0 133.1 588.7 132.0C590.4 130.9 594.1 128.8 595.6 129.3C597.0 129.7 595.3 132.0 594.9 134.0C594.6 136.1 594.4 136.4 594.0 138.0C593.6 139.6 592.3 139.4 593.0 140.8C593.8 142.2 595.1 143.7 597.2 144.1C599.3 144.4 599.8 142.4 602.0 142.4C604.3 142.4 604.2 144.0 606.9 144.1C609.5 144.1 609.9 143.5 613.2 142.8C616.6 142.2 618.2 141.3 621.2 141.2C624.1 141.1 624.2 143.2 626.0 142.4C627.8 141.7 628.3 140.4 628.9 138.0C629.5 135.6 627.5 134.1 628.5 132.0C629.4 130.0 630.7 129.4 632.9 129.3C635.1 129.1 636.5 131.8 637.8 131.2C639.0 130.7 638.8 128.7 638.3 126.9C637.7 125.1 634.4 124.5 635.5 123.4C636.6 122.3 639.8 122.6 643.0 122.2C646.2 121.7 646.2 121.9 649.0 121.4C651.8 120.9 654.7 121.0 655.0 120.2C655.2 119.5 653.0 118.7 650.1 118.3C647.2 117.9 646.4 118.1 642.6 118.7C638.7 119.2 636.9 120.8 633.7 120.6C630.5 120.4 630.2 119.8 628.9 117.9C627.5 116.0 628.0 114.8 627.8 112.5C627.6 110.2 626.0 110.4 628.0 107.9C629.9 105.4 633.8 103.9 636.1 101.9C638.5 99.9 639.9 100.0 638.1 99.3C636.4 98.5 631.0 97.6 628.5 98.5C626.1 99.4 629.4 100.8 627.5 103.0C625.7 105.2 623.3 105.7 620.6 107.9C617.9 110.1 616.9 110.3 615.8 112.5C614.7 114.7 614.6 115.7 615.8 117.5C617.0 119.3 620.0 119.0 620.8 120.2C621.7 121.5 620.9 121.6 619.5 123.0C618.0 124.3 615.9 124.0 614.7 126.1C613.5 128.2 614.8 129.9 614.4 132.0C613.9 134.2 614.5 133.8 612.9 135.2C611.4 136.6 609.9 137.3 607.6 138.0C605.4 138.8 604.6 139.2 603.2 138.4C601.9 137.7 602.7 137.0 601.9 134.8C601.0 132.7 600.7 131.8 599.6 129.3C598.5 126.8 598.0 125.8 597.1 124.1C596.1 122.5 596.6 122.0 595.5 122.2C594.5 122.4 594.3 123.6 592.5 124.9C590.7 126.2 590.0 127.0 587.8 127.7C585.6 128.3 584.9 128.3 583.1 127.7C581.4 127.0 581.1 127.1 580.1 124.9C579.1 122.7 579.1 121.2 578.8 118.3C578.6 115.4 577.9 114.6 579.1 112.5C580.2 110.4 581.2 110.8 583.6 109.4C586.1 108.1 586.8 108.1 589.6 106.8C592.3 105.5 592.9 105.8 595.5 103.8C598.0 101.7 598.6 100.7 600.6 98.1C602.6 95.5 601.9 94.8 603.9 92.6C605.9 90.5 606.9 90.7 609.4 89.0C611.9 87.3 611.9 86.8 614.7 85.4C617.6 84.0 618.0 84.0 621.4 82.9C624.8 81.7 625.8 81.3 629.4 80.4C632.9 79.5 633.6 79.2 636.8 79.0C639.9 78.8 639.4 78.7 642.8 79.4C646.2 80.0 649.9 80.7 651.4 81.8C652.9 82.9 647.6 83.2 649.1 83.9C650.5 84.7 653.6 84.6 657.5 85.0C661.5 85.4 661.2 84.6 666.0 85.7C670.8 86.9 674.4 88.0 678.2 90.1C682.0 92.1 683.1 92.9 682.2 94.4C681.2 96.0 678.8 96.6 674.2 96.7C669.5 96.7 666.1 95.5 662.3 94.8C658.5 94.1 657.4 92.9 657.9 93.7C658.4 94.5 662.3 95.9 664.4 98.1C666.6 100.4 664.6 101.7 667.0 103.4C669.3 105.0 673.4 105.8 674.7 105.3C675.9 104.7 670.7 101.7 672.3 101.1C673.9 100.5 679.5 103.3 681.4 102.6C683.2 101.9 679.3 99.7 680.3 98.1C681.2 96.6 682.9 96.4 685.4 95.9C688.0 95.5 690.2 97.9 691.2 96.3C692.3 94.7 689.1 90.4 690.0 89.0C690.8 87.5 693.2 88.9 695.0 90.1C696.9 91.3 696.3 93.7 697.7 94.1C699.1 94.4 697.3 92.9 701.1 91.5C704.9 90.2 708.4 89.1 714.0 88.2C719.6 87.4 720.7 88.3 725.0 87.9C729.4 87.5 730.6 87.5 732.8 86.4C734.9 85.4 731.7 83.8 734.2 83.6C736.7 83.3 739.1 84.5 743.3 85.4C747.6 86.2 749.2 86.3 752.5 87.2C755.9 88.0 757.9 89.6 757.6 89.0C757.3 88.4 753.4 86.9 751.3 84.7C749.1 82.4 749.0 82.0 748.5 79.4C747.9 76.7 746.4 74.6 749.0 73.1C751.6 71.7 756.0 71.7 759.6 73.1C763.1 74.6 762.4 75.8 764.2 79.4C765.9 82.9 764.7 84.9 767.0 88.2C769.4 91.6 773.2 94.1 774.2 93.7C775.3 93.3 773.8 91.3 771.6 86.4C769.4 81.6 764.3 75.8 764.9 73.1C765.4 70.4 770.1 74.6 774.0 74.8C777.9 75.1 779.5 75.3 781.5 74.1C783.5 73.0 779.7 71.6 782.4 70.1C785.2 68.5 791.2 68.5 793.3 67.4C795.4 66.2 788.8 66.2 791.3 65.0C793.8 63.9 798.4 63.2 804.1 62.4C809.8 61.6 810.7 62.7 815.7 61.4C820.7 60.1 821.5 57.5 825.6 56.9C829.7 56.4 830.0 58.4 833.2 59.2C836.4 59.9 834.4 59.4 839.4 60.1C844.4 60.9 850.4 60.7 854.7 62.4C859.1 64.1 858.0 65.8 858.0 67.4C858.0 68.9 852.9 68.3 854.7 69.0C856.4 69.8 860.3 70.3 865.6 70.7C871.0 71.1 871.8 70.9 877.4 70.7C883.1 70.6 883.6 69.5 889.8 70.1C895.9 70.6 897.4 71.0 903.9 73.1C910.5 75.3 912.9 78.3 917.9 79.4C922.8 80.4 921.0 78.0 925.3 77.6C929.5 77.2 933.0 78.7 936.1 77.6C939.1 76.6 933.7 73.8 938.4 73.1C943.1 72.4 948.6 73.5 956.2 74.5C963.7 75.5 964.6 76.0 970.6 77.3C976.6 78.5 975.3 79.0 982.0 79.7C988.7 80.4 992.6 79.3 999.3 80.4C1006.0 81.6 1005.5 83.7 1010.6 84.7C1015.7 85.6 1017.2 84.7 1021.2 84.3C1025.1 83.9 1023.9 83.1 1027.4 82.9C1030.9 82.6 1030.8 83.1 1036.1 83.2C1041.5 83.4 1043.5 82.8 1050.4 83.6C1057.3 84.3 1058.1 84.8 1065.8 86.4C1073.5 88.1 1076.9 89.0 1083.5 90.8C1090.1 92.6 1089.0 92.6 1094.1 94.1C1099.1 95.5 1102.1 95.0 1105.0 97.0C1107.9 99.0 1109.2 102.0 1106.5 102.6C1103.8 103.2 1098.2 101.0 1093.5 99.6C1088.9 98.2 1088.0 96.6 1086.4 96.7C1084.9 96.7 1087.0 98.7 1086.9 100.0C1086.7 101.3 1086.9 101.7 1085.6 102.3C1084.3 102.8 1079.2 100.8 1081.2 102.3C1083.3 103.8 1090.1 106.6 1094.3 108.7C1098.5 110.8 1100.3 110.0 1099.3 111.3C1098.2 112.7 1093.3 113.1 1089.8 114.4C1086.2 115.8 1085.9 115.8 1084.1 117.1C1082.2 118.5 1085.1 119.5 1081.7 120.2C1078.3 121.0 1073.6 120.1 1069.5 120.2C1065.5 120.4 1064.9 119.6 1064.3 121.0C1063.7 122.4 1066.3 124.3 1066.9 126.1C1067.5 127.9 1064.4 126.6 1066.8 128.9C1069.3 131.2 1074.6 133.2 1077.5 136.0C1080.4 138.8 1078.9 138.2 1079.3 140.8C1079.6 143.5 1079.7 145.1 1079.1 147.3C1078.6 149.5 1077.6 148.0 1076.9 150.1C1076.3 152.2 1078.4 156.3 1076.5 156.3C1074.6 156.3 1072.6 153.5 1068.8 150.1C1065.0 146.8 1064.2 145.8 1060.3 142.0C1056.4 138.3 1054.4 137.1 1052.2 134.0C1049.9 130.9 1050.9 131.2 1050.7 128.9C1050.4 126.6 1051.3 126.6 1050.9 124.1C1050.5 121.7 1049.5 121.5 1049.1 118.3C1048.7 115.1 1050.4 111.7 1049.2 110.6C1048.0 109.5 1047.0 112.8 1043.8 113.7C1040.7 114.5 1037.0 112.4 1035.7 114.4C1034.3 116.4 1039.2 119.9 1038.1 122.2C1037.0 124.5 1035.3 124.2 1030.9 124.1C1026.5 124.0 1024.6 122.1 1019.3 121.8C1014.0 121.5 1012.7 122.4 1008.2 123.0C1003.8 123.5 1002.2 122.5 1000.1 124.1C998.1 125.8 999.8 126.8 999.5 130.1C999.1 133.3 999.6 135.3 998.7 138.0C997.7 140.7 994.1 140.2 995.3 141.6C996.5 143.0 1000.8 143.2 1003.7 144.1C1006.7 144.9 1004.9 144.3 1008.0 145.3C1011.0 146.2 1013.3 146.5 1016.7 148.1C1020.2 149.7 1020.4 149.3 1022.6 152.2C1024.9 155.0 1024.6 157.0 1026.3 160.4C1028.1 163.7 1029.3 163.2 1030.1 166.6C1030.8 169.9 1030.4 171.5 1029.6 174.9C1028.8 178.3 1027.7 178.2 1026.7 181.1C1025.8 184.0 1026.9 185.2 1025.4 187.4C1023.9 189.6 1022.5 189.9 1020.2 190.3C1017.8 190.7 1016.9 188.6 1015.3 189.1C1013.7 189.6 1014.1 190.7 1013.4 192.4C1012.7 194.2 1012.0 194.4 1012.2 196.7C1012.4 198.9 1015.3 200.5 1014.4 202.1C1013.4 203.8 1009.3 202.8 1008.2 203.8C1007.0 204.8 1008.0 205.1 1009.4 206.4C1010.8 207.7 1011.8 207.4 1014.3 209.3C1016.8 211.3 1018.0 212.1 1020.0 214.8C1022.0 217.6 1022.6 219.1 1022.8 221.2C1022.9 223.3 1022.6 222.7 1020.6 223.8C1018.6 224.9 1016.3 226.5 1014.2 225.9C1012.1 225.3 1012.5 223.8 1011.6 221.2C1010.7 218.6 1012.0 217.1 1010.4 214.8C1008.8 212.6 1006.7 212.9 1004.6 211.5C1002.6 210.0 1002.5 210.2 1001.5 208.5C1000.6 206.8 1001.9 205.7 1000.6 204.3C999.3 202.8 998.6 201.6 996.1 202.1C993.6 202.6 991.9 205.2 989.9 206.4C988.0 207.6 988.5 208.7 987.8 207.2C987.2 205.7 988.2 202.1 987.0 200.0C985.8 198.0 984.6 197.2 982.7 198.3C980.7 199.5 980.5 203.2 978.8 205.1C977.0 207.0 975.0 205.1 975.1 206.4C975.2 207.7 977.7 208.9 979.4 210.6C981.1 212.3 980.5 213.4 982.4 213.6C984.3 213.8 984.7 211.5 987.6 211.5C990.5 211.5 994.1 212.3 994.9 213.6C995.6 214.9 992.6 215.0 990.9 217.0C989.2 218.9 987.5 219.9 987.5 222.1C987.5 224.2 988.6 223.5 990.9 226.3C993.2 229.1 994.8 231.2 997.3 234.0C999.8 236.7 1001.0 236.2 1001.6 238.2C1002.3 240.2 999.4 240.8 1000.1 242.5C1000.8 244.2 1003.6 243.3 1004.7 245.5C1005.7 247.6 1005.5 248.6 1004.7 251.8C1003.8 255.1 1002.1 256.5 1001.1 259.5C1000.1 262.5 1001.7 262.5 1000.4 264.6C999.1 266.7 997.8 266.1 995.6 268.4C993.5 270.7 993.9 272.5 991.2 274.4C988.5 276.3 986.9 275.5 984.1 276.5C981.2 277.5 981.7 277.5 978.8 278.6C975.9 279.7 974.1 279.5 971.7 281.2C969.4 282.9 969.9 286.0 968.7 285.9C967.6 285.8 968.3 282.1 966.8 280.8C965.3 279.4 964.7 279.2 962.2 279.9C959.7 280.6 958.1 281.1 956.0 283.7C954.0 286.4 953.1 288.1 953.4 291.4C953.7 294.7 955.4 295.3 957.3 297.8C959.2 300.3 959.3 299.8 961.6 302.0C963.9 304.2 965.2 303.7 967.2 307.1C969.2 310.6 969.4 313.3 970.2 316.9C970.9 320.5 971.7 319.9 970.3 322.4C968.9 325.0 966.4 325.8 964.3 328.0C962.3 330.2 963.7 330.0 961.6 331.8C959.5 333.6 957.1 336.1 955.3 335.6C953.6 335.1 955.7 331.7 954.2 329.7C952.7 327.7 951.3 329.1 949.1 327.1C946.9 325.1 947.2 323.2 944.8 321.2C942.4 319.1 940.7 319.7 938.8 318.2C936.9 316.7 937.5 314.6 936.6 314.8C935.8 315.0 935.9 316.1 935.1 319.0C934.3 322.0 933.1 324.4 933.1 327.5C933.2 330.7 934.1 329.7 935.4 332.6C936.6 335.6 936.8 337.8 938.5 340.3C940.1 342.8 940.6 341.8 942.4 343.3C944.3 344.8 944.6 344.4 946.4 346.7C948.2 349.0 949.1 349.9 950.1 353.1C951.1 356.2 949.9 357.2 950.7 360.3C951.5 363.4 953.5 364.8 953.5 366.2C953.4 367.7 952.9 368.0 950.4 366.7C948.0 365.4 945.7 363.9 943.1 360.7C940.4 357.5 940.2 356.3 939.0 353.1C937.9 349.8 939.0 349.2 938.0 346.7C937.0 344.2 936.6 344.4 934.8 342.4C933.0 340.4 931.4 341.2 930.4 338.2C929.3 335.2 930.3 333.6 930.3 329.7C930.2 325.7 930.8 325.1 930.0 321.2C929.2 317.2 928.3 317.1 927.0 312.7C925.6 308.2 925.9 304.7 924.3 302.0C922.7 299.3 922.0 300.5 920.1 301.2C918.1 301.9 917.8 304.3 916.0 305.0C914.1 305.7 913.1 306.3 912.1 304.1C911.1 302.0 912.8 299.1 911.9 295.6C910.9 292.2 910.4 292.2 908.1 289.3C905.8 286.3 904.0 285.8 902.0 282.9C900.0 280.0 901.1 278.2 899.4 276.9C897.7 275.6 896.9 276.7 894.6 277.4C892.2 278.0 892.3 279.1 889.3 279.9C886.4 280.7 883.7 279.6 881.9 280.8C880.2 281.9 882.8 283.2 881.7 285.0C880.6 286.8 879.4 286.2 877.2 288.4C875.0 290.6 874.7 291.3 872.2 294.4C869.7 297.4 869.6 298.8 866.6 301.6C863.6 304.4 861.0 303.0 859.5 306.3C857.9 309.6 860.0 311.7 859.8 315.6C859.7 319.6 859.4 320.3 858.8 323.3C858.2 326.3 857.8 326.2 857.2 328.4C856.6 330.6 857.2 331.3 856.3 332.6C855.4 334.0 854.6 333.2 853.3 334.3C852.1 335.5 852.3 337.8 850.8 337.7C849.3 337.6 848.5 337.1 846.9 333.9C845.2 330.7 845.4 328.1 843.7 324.1C842.0 320.2 841.1 320.6 839.5 316.9C837.9 313.2 838.6 312.4 837.0 308.4C835.3 304.4 834.2 303.9 832.5 299.9C830.8 295.9 830.7 295.4 829.8 291.4C828.9 287.4 829.2 286.1 828.7 282.9C828.1 279.7 829.1 277.6 827.4 277.8C825.8 278.0 824.7 283.7 821.6 283.7C818.6 283.7 815.0 280.0 814.3 277.8C813.7 275.6 819.6 275.7 818.9 274.4C818.1 273.1 814.0 274.0 811.2 272.2C808.4 270.5 808.7 268.6 806.9 266.7C805.1 264.8 806.6 264.7 803.6 264.2C800.7 263.7 798.7 264.3 794.4 264.6C790.1 264.9 789.6 265.5 785.2 265.4C780.9 265.3 779.5 264.9 775.8 264.2C772.1 263.5 771.4 264.1 769.3 262.5C767.3 260.9 769.1 258.3 767.0 257.4C764.9 256.5 763.7 258.6 760.5 258.6C757.2 258.6 756.1 258.7 752.9 257.4C749.8 256.1 749.4 255.6 747.0 253.1C744.6 250.6 745.0 249.1 742.6 246.7C740.2 244.3 738.9 243.4 736.7 242.9C734.5 242.4 733.8 243.2 733.2 244.6C732.7 246.0 733.5 246.6 734.4 248.9C735.3 251.1 735.4 252.1 737.1 254.4C738.9 256.7 740.6 256.5 742.0 258.6C743.4 260.8 742.0 263.1 743.1 263.7C744.3 264.3 745.7 260.5 747.0 261.2C748.3 261.9 747.4 264.8 748.6 266.7C749.8 268.6 750.0 268.7 752.1 269.3C754.2 269.9 755.4 270.4 757.7 269.3C760.0 268.2 760.3 266.7 762.1 264.6C763.9 262.5 764.3 259.5 765.4 260.3C766.5 261.1 764.7 265.3 766.9 268.0C769.0 270.7 771.6 269.8 774.7 271.8C777.7 273.8 779.5 273.6 779.9 276.5C780.3 279.4 777.8 280.7 776.4 284.2C774.9 287.6 775.2 288.7 773.5 291.4C771.8 294.1 771.2 293.7 768.9 295.6C766.6 297.6 766.9 297.9 763.5 299.9C760.2 301.9 758.7 302.2 754.4 304.1C750.1 306.1 749.0 306.4 745.2 308.4C741.3 310.4 742.1 310.5 737.8 312.7C733.5 314.8 730.5 316.5 726.6 317.8C722.7 319.0 722.8 319.9 720.9 318.2C719.1 316.5 719.6 314.3 718.8 310.5C717.9 306.8 719.3 306.5 717.3 302.0C715.3 297.6 713.6 296.4 710.4 291.4C707.2 286.4 706.4 285.7 703.6 280.8C700.7 275.8 700.9 274.6 698.2 270.1C695.6 265.7 695.0 265.6 692.2 261.6C689.4 257.6 687.7 256.6 686.2 253.1C684.6 249.6 686.0 246.7 685.4 246.7C684.8 246.7 684.1 251.3 683.6 253.1C683.1 254.9 684.3 254.9 683.3 254.4C682.3 253.9 680.9 253.2 679.4 251.0C677.9 248.8 677.8 247.8 676.8 245.0C675.9 242.3 674.0 240.5 675.4 239.1C676.7 237.7 680.5 240.8 682.7 239.1C684.8 237.4 683.6 235.0 684.7 231.8C685.7 228.7 686.4 228.4 687.0 225.5C687.6 222.5 688.5 221.3 687.2 219.1C685.9 216.9 684.5 216.2 681.5 216.1C678.6 216.0 677.9 218.5 674.6 218.7C671.3 218.9 670.2 217.2 667.3 217.0C664.4 216.8 664.5 218.3 662.0 217.8C659.5 217.3 658.7 217.0 656.4 214.8C654.2 212.7 653.2 211.0 652.5 208.5C651.7 206.0 653.6 205.7 653.2 204.3C652.9 202.8 650.5 203.0 651.0 202.1C651.5 201.3 653.2 201.4 655.4 200.5C657.7 199.5 657.3 198.7 660.5 197.9C663.7 197.1 665.6 198.1 669.2 197.1C672.7 196.1 673.0 194.5 675.8 193.7C678.6 192.9 678.5 193.0 681.0 193.7C683.5 194.4 683.6 195.7 686.6 196.7C689.6 197.6 690.8 197.6 693.7 197.9C696.6 198.2 696.5 198.5 699.0 197.9C701.4 197.3 703.7 197.4 704.2 195.4C704.8 193.4 703.7 191.9 701.3 189.5C698.9 187.1 696.8 187.0 693.8 185.3C690.7 183.6 690.3 183.6 688.2 182.4C686.2 181.1 685.0 181.6 685.2 179.9C685.3 178.1 687.2 176.7 688.9 174.9C690.6 173.0 693.4 172.4 692.5 171.9C691.7 171.5 688.4 171.8 685.2 172.8C682.1 173.7 679.9 174.5 678.9 176.1C677.9 177.8 681.7 178.1 681.1 179.9C680.5 181.6 678.6 183.8 676.4 183.6C674.1 183.4 672.0 180.6 671.4 179.0C670.8 177.5 675.0 178.0 673.9 176.9C672.8 175.9 669.2 174.7 666.8 174.4C664.4 174.1 665.0 174.4 663.6 175.7C662.2 177.0 662.2 177.6 660.9 179.9C659.6 182.1 659.1 183.1 658.0 185.3C656.9 187.6 656.8 187.8 656.3 189.5C655.8 191.2 655.5 191.1 655.9 192.4C656.2 193.8 656.8 194.3 657.8 195.4C658.9 196.5 661.0 196.5 660.4 197.1C659.8 197.7 657.5 197.3 655.2 197.9C653.0 198.5 653.2 199.4 650.8 199.6C648.4 199.8 646.7 198.4 644.8 198.8C642.9 199.2 643.9 201.0 642.5 201.3C641.1 201.6 639.7 199.1 638.9 200.0C638.1 200.9 638.1 202.6 639.2 205.1C640.3 207.6 643.5 209.1 643.7 210.6C644.0 212.1 640.8 210.0 640.2 211.5C639.6 212.9 642.0 215.9 641.2 217.0C640.4 218.1 638.5 217.4 636.9 216.1C635.2 214.8 635.1 213.7 634.2 211.5C633.2 209.2 634.2 208.5 632.9 206.4C631.6 204.2 629.9 204.6 628.5 202.1C627.1 199.7 628.0 198.3 626.8 195.8C625.6 193.4 625.9 193.6 623.5 191.6C621.1 189.6 619.3 189.7 616.4 187.4C613.5 185.1 613.2 183.4 611.1 182.0C609.1 180.5 608.8 182.0 607.7 181.1C606.5 180.2 607.6 178.5 606.3 178.2C604.9 177.9 602.8 178.4 601.9 179.9C600.9 181.3 601.2 182.7 602.2 184.5C603.3 186.2 604.9 185.6 606.4 187.4C607.9 189.2 606.6 190.4 608.6 192.0C610.6 193.7 611.8 192.8 614.9 194.5C618.0 196.3 620.0 197.9 622.1 199.6C624.2 201.3 624.7 201.5 623.9 201.7C623.1 201.9 620.1 200.0 618.6 200.5C617.0 200.9 617.1 202.5 617.3 203.8C617.4 205.2 619.4 204.8 619.1 206.4C618.8 208.0 617.2 209.8 616.0 210.6C614.9 211.4 614.3 211.2 614.2 209.8C614.2 208.3 616.1 206.1 615.9 204.3C615.7 202.4 614.9 203.0 613.3 201.7C611.8 200.4 611.1 199.9 609.1 198.8C607.0 197.6 606.2 197.6 604.5 196.7C602.8 195.7 603.7 196.1 601.7 194.5C599.6 193.0 597.4 192.0 595.7 189.9C594.1 187.9 596.0 187.2 594.7 185.7C593.4 184.3 592.4 183.5 590.2 183.6C588.1 183.7 587.7 184.9 585.4 186.1C583.0 187.4 582.3 188.7 580.2 189.1C578.0 189.5 578.3 187.9 576.0 187.8C573.8 187.7 571.9 187.7 570.5 188.7C569.1 189.6 570.1 190.7 570.0 192.0C570.0 193.3 571.1 193.1 570.3 194.1C569.6 195.1 568.8 195.1 566.8 196.2C564.8 197.3 563.9 196.9 561.8 198.8C559.7 200.6 558.2 202.3 557.7 204.3C557.1 206.2 559.7 205.4 559.3 207.2C558.9 209.0 557.8 209.9 555.9 211.9C554.0 213.9 554.3 214.7 551.1 215.7C548.0 216.7 545.4 215.4 542.6 216.1C539.7 216.8 540.4 218.6 538.8 218.7C537.2 218.8 537.0 217.6 535.7 216.5C534.5 215.5 535.6 214.4 533.4 214.0C531.2 213.6 528.2 216.3 526.2 214.8Z M997.2 407.9C999.5 407.2 1002.5 407.6 1008.7 407.5C1014.9 407.4 1020.6 407.0 1023.9 407.5C1027.2 408.0 1026.6 409.0 1023.0 409.6C1019.4 410.2 1014.1 409.9 1008.5 410.1C1002.9 410.3 1001.6 411.0 999.0 410.5C996.3 410.0 995.0 408.6 997.2 407.9Z M542.0 160.0C542.7 160.6 546.1 159.7 549.4 159.1C552.7 158.6 552.4 158.3 556.1 157.5C559.8 156.7 562.9 157.8 565.4 155.8C567.9 153.9 567.4 151.1 566.7 149.3C566.1 147.5 563.9 149.3 562.6 148.1C561.3 146.9 562.4 145.9 561.2 144.1C560.0 142.2 558.5 141.9 557.3 140.0C556.1 138.1 556.4 138.0 556.1 136.0C555.8 134.1 555.9 133.1 556.1 131.6C556.4 130.2 558.6 130.2 557.2 129.7C555.9 129.1 551.2 130.2 550.4 129.3C549.6 128.3 554.5 126.5 553.9 125.7C553.2 124.9 549.8 124.7 547.7 125.7C545.5 126.7 545.8 128.1 544.7 130.1C543.6 132.0 543.0 132.2 543.0 134.0C543.0 135.9 543.9 136.4 544.8 138.0C545.7 139.6 545.0 140.2 546.8 140.8C548.5 141.5 551.4 140.1 552.5 140.8C553.5 141.6 551.4 142.7 551.3 144.1C551.1 145.4 553.0 145.8 552.0 146.5C551.1 147.1 548.1 146.0 547.1 146.9C546.2 147.7 548.5 148.7 547.8 150.1C547.2 151.6 543.5 151.9 544.3 153.0C545.1 154.0 550.9 153.9 551.4 154.6C551.8 155.4 548.5 155.0 546.3 156.3C544.1 157.5 541.3 159.3 542.0 160.0Z M964.5 290.5C965.1 288.8 968.8 287.4 970.8 287.1C972.8 286.8 973.6 287.5 973.0 289.3C972.4 291.0 970.1 294.5 968.2 294.8C966.2 295.1 963.9 292.3 964.5 290.5Z M1042.3 363.7C1043.1 362.7 1045.5 363.3 1046.2 365.8C1046.9 368.3 1046.3 373.3 1045.5 374.3C1044.7 375.3 1043.6 372.6 1042.8 370.1C1042.1 367.6 1041.6 364.7 1042.3 363.7Z M1047.7 195.8C1046.8 195.0 1045.9 192.1 1044.9 188.2C1043.9 184.4 1041.6 180.3 1043.4 179.4C1045.3 178.6 1048.6 182.6 1052.9 184.5C1057.1 186.3 1060.3 185.2 1061.6 187.4C1063.0 189.6 1061.7 192.7 1058.7 193.7C1055.6 194.7 1051.2 191.1 1048.7 191.6C1046.1 192.1 1048.6 196.6 1047.7 195.8Z M1052.7 196.7C1055.1 198.3 1057.7 200.5 1059.5 204.3C1061.3 208.0 1059.5 209.0 1060.4 212.7C1061.3 216.5 1063.1 217.9 1063.3 220.4C1063.5 222.8 1062.5 222.3 1061.1 223.3C1059.6 224.3 1059.1 224.2 1056.9 224.6C1054.8 225.0 1052.9 223.8 1051.7 225.0C1050.5 226.2 1053.5 229.6 1051.9 229.7C1050.2 229.8 1048.0 226.3 1044.7 225.5C1041.4 224.7 1041.0 225.8 1037.8 226.3C1034.7 226.8 1032.9 227.8 1031.1 227.6C1029.4 227.4 1029.6 227.0 1030.3 225.5C1030.9 224.0 1030.6 222.3 1033.9 221.2C1037.2 220.1 1041.5 222.3 1044.5 220.8C1047.4 219.3 1045.8 216.7 1046.4 214.8C1047.1 213.0 1046.0 213.2 1047.2 212.7C1048.4 212.2 1050.1 213.7 1051.5 212.7C1052.8 211.7 1052.9 211.0 1052.9 208.5C1052.9 206.0 1052.1 204.8 1051.3 202.1C1050.5 199.5 1049.2 198.4 1049.5 197.1C1049.8 195.8 1050.4 195.0 1052.7 196.7Z M494.5 99.3C494.4 98.3 498.1 96.1 501.2 95.9C504.2 95.7 504.7 98.3 507.6 98.5C510.6 98.7 511.0 97.4 513.8 96.7C516.7 96.0 517.6 94.9 519.8 95.6C522.0 96.2 521.9 98.0 523.3 99.3C524.7 100.6 526.4 100.1 525.9 101.1C525.3 102.2 524.7 102.3 521.0 103.8C517.3 105.2 514.2 106.7 510.0 107.2C505.8 107.6 505.8 106.0 503.0 105.6C500.2 105.3 498.5 106.3 498.0 105.6C497.5 105.0 501.3 104.0 500.7 103.0C500.1 102.0 495.1 102.2 495.3 101.5C495.5 100.8 501.7 100.5 501.5 100.0C501.3 99.5 494.6 100.2 494.5 99.3Z M528.5 153.8C530.2 154.3 532.2 154.0 535.1 153.4C538.0 152.8 539.2 152.9 540.9 151.4C542.5 149.8 541.5 149.1 542.3 146.9C543.0 144.7 544.3 143.8 544.1 142.0C543.9 140.2 543.4 139.9 541.5 139.2C539.6 138.6 538.8 138.3 536.1 139.2C533.4 140.2 531.3 141.5 529.8 143.2C528.4 145.0 530.5 145.0 530.0 146.9C529.5 148.8 528.2 149.7 527.8 151.4C527.5 153.0 526.8 153.3 528.5 153.8Z M956.5 401.1C957.0 399.7 959.9 397.8 962.8 397.7C965.7 397.6 965.6 400.2 969.1 400.7C972.7 401.2 974.2 399.5 977.9 399.8C981.6 400.1 981.9 400.7 985.0 402.0C988.2 403.3 989.8 403.7 991.3 405.4C992.8 407.1 994.5 408.7 991.4 409.2C988.4 409.7 984.0 408.4 978.2 407.5C972.5 406.6 971.0 406.3 967.0 405.4C962.9 404.5 963.4 404.7 961.0 403.7C958.5 402.7 956.1 402.5 956.5 401.1Z M1028.4 229.7C1029.0 228.5 1031.4 227.4 1033.4 228.9C1035.5 230.4 1037.0 233.4 1037.3 236.1C1037.6 238.8 1036.4 240.8 1034.8 240.3C1033.3 239.9 1032.2 236.4 1030.7 234.0C1029.2 231.5 1027.7 230.9 1028.4 229.7Z M248.9 173.6C250.3 172.3 255.8 170.5 259.9 168.6C264.0 166.8 263.8 165.6 266.5 165.7C269.1 165.8 269.8 167.3 271.5 169.0C273.1 170.8 273.3 171.8 273.5 173.2C273.6 174.5 274.3 174.5 272.0 174.9C269.7 175.2 267.8 175.0 263.5 174.9C259.2 174.7 257.2 174.3 253.8 174.0C250.3 173.7 247.5 174.9 248.9 173.6Z M253.4 195.0C253.3 193.3 254.3 190.9 256.5 187.4C258.7 183.9 259.8 182.3 262.8 179.9C265.8 177.4 267.3 177.3 269.3 176.9C271.2 176.5 272.4 176.2 271.1 178.2C269.8 180.1 266.5 182.2 263.7 185.3C260.8 188.4 260.7 189.4 259.1 191.6C257.4 193.8 258.0 193.8 256.7 194.5C255.4 195.3 253.4 196.6 253.4 195.0Z M272.5 177.4C272.8 176.4 273.7 176.9 276.1 176.9C278.5 176.9 280.5 176.1 282.7 177.4C284.9 178.6 286.2 181.0 285.6 182.4C285.0 183.7 282.1 181.7 280.1 183.2C278.1 184.7 278.4 187.2 277.0 188.7C275.5 190.1 275.0 190.1 273.8 189.5C272.7 188.9 271.6 188.1 271.9 186.1C272.1 184.2 274.7 183.2 274.8 181.1C275.0 179.1 272.2 178.3 272.5 177.4Z M268.4 195.0C269.2 194.1 270.3 193.6 274.3 192.4C278.4 191.3 283.2 190.2 285.8 189.9C288.3 189.6 286.8 190.3 285.3 191.2C283.7 192.1 282.3 192.5 279.0 193.7C275.7 194.9 273.5 195.9 271.0 196.2C268.5 196.5 267.6 195.9 268.4 195.0Z M283.7 188.2C284.8 188.0 287.0 188.6 290.1 187.8C293.3 187.0 295.7 185.0 297.2 184.9C298.7 184.8 297.8 186.5 296.5 187.4C295.2 188.3 294.0 188.4 291.5 188.7C289.0 189.0 287.4 188.8 285.6 188.7C283.8 188.6 282.7 188.4 283.7 188.2Z M1009.3 293.5C1010.9 291.1 1014.1 291.5 1015.8 293.9C1017.5 296.4 1016.7 300.3 1016.6 304.1C1016.6 308.0 1013.5 307.6 1015.6 310.5C1017.8 313.5 1024.4 316.1 1025.9 316.9C1027.3 317.7 1024.8 314.9 1021.7 313.9C1018.6 312.9 1015.4 314.9 1012.5 312.7C1009.5 310.4 1009.8 308.6 1009.1 304.1C1008.3 299.7 1007.8 295.9 1009.3 293.5Z M743.0 423.2C744.4 426.2 746.7 433.2 746.9 438.1C747.1 443.1 745.5 441.0 744.0 444.5C742.4 448.0 742.3 448.0 740.5 453.0C738.6 458.0 738.1 459.8 736.0 465.8C733.9 471.7 734.1 475.0 731.4 478.5C728.8 482.1 727.3 482.6 724.6 481.1C721.8 479.6 721.0 476.2 719.6 472.2C718.1 468.1 717.8 467.1 718.5 463.6C719.2 460.2 721.8 461.7 722.6 457.3C723.4 452.8 720.4 448.8 722.1 444.5C723.8 440.2 726.4 441.5 729.9 439.0C733.4 436.5 734.3 437.0 736.9 433.9C739.5 430.7 739.6 427.8 741.1 425.4C742.5 422.9 741.7 420.3 743.0 423.2Z M1020.5 342.4C1020.8 341.4 1022.8 338.8 1025.7 336.0C1028.6 333.3 1030.2 329.5 1032.9 330.5C1035.6 331.5 1037.2 336.5 1037.5 340.3C1037.7 344.1 1036.2 345.7 1034.0 346.7C1031.9 347.7 1030.5 346.0 1028.2 344.6C1025.9 343.1 1025.9 340.8 1024.1 340.3C1022.3 339.8 1020.1 343.4 1020.5 342.4Z M1121.7 396.4C1122.2 395.6 1126.0 397.1 1129.4 395.6C1132.8 394.1 1134.9 390.1 1136.2 390.1C1137.5 390.1 1137.2 393.5 1135.1 395.6C1133.0 397.7 1130.4 398.8 1127.3 399.0C1124.2 399.2 1121.2 397.2 1121.7 396.4Z M1055.8 375.6C1057.6 373.7 1063.8 373.1 1067.3 375.6C1070.7 378.1 1067.7 385.3 1070.8 386.2C1073.9 387.1 1075.2 380.1 1080.5 379.4C1085.9 378.7 1087.6 381.2 1093.8 383.3C1099.9 385.3 1102.6 385.5 1106.9 388.4C1111.2 391.2 1109.5 393.1 1112.3 395.6C1115.1 398.1 1117.7 397.0 1118.9 399.0C1120.1 401.0 1116.6 401.1 1117.4 404.1C1118.2 407.1 1119.8 409.0 1122.4 411.8C1125.1 414.5 1129.8 415.1 1128.8 416.0C1127.8 416.9 1122.3 417.4 1118.2 415.6C1114.2 413.8 1115.1 410.2 1111.3 408.4C1107.5 406.5 1105.1 406.8 1101.9 407.5C1098.7 408.2 1100.0 410.5 1097.8 411.3C1095.5 412.1 1095.1 412.1 1092.1 410.9C1089.1 409.7 1087.5 407.0 1084.9 406.2C1082.3 405.4 1081.3 408.7 1081.0 407.5C1080.6 406.3 1084.9 404.7 1083.3 401.1C1081.8 397.5 1078.6 395.0 1074.3 392.2C1070.0 389.4 1067.7 391.1 1064.9 389.2C1062.2 387.3 1063.7 385.4 1062.5 384.1C1061.2 382.8 1061.0 385.7 1059.4 383.7C1057.9 381.7 1054.0 377.5 1055.8 375.6Z M1001.8 336.5C1003.9 334.5 1008.1 329.1 1009.7 326.3C1011.4 323.4 1010.9 322.2 1008.8 324.1C1006.7 326.1 1002.6 331.9 1000.9 334.8C999.3 337.6 999.7 338.5 1001.8 336.5Z M1017.2 142.8C1018.1 142.8 1023.7 148.1 1028.2 152.2C1032.7 156.3 1032.9 157.5 1036.3 160.4C1039.6 163.2 1041.3 162.1 1042.6 164.5C1044.0 166.9 1040.9 168.0 1042.0 170.7C1043.1 173.4 1047.2 174.6 1047.4 176.1C1047.6 177.6 1045.2 178.7 1042.8 176.9C1040.5 175.2 1039.9 172.5 1037.2 168.6C1034.5 164.8 1034.4 164.2 1031.3 160.4C1028.2 156.5 1027.2 156.3 1024.0 152.2C1020.7 148.1 1016.2 142.8 1017.2 142.8Z M587.7 198.3C588.7 196.1 591.8 195.4 593.0 197.1C594.1 198.8 593.6 203.3 592.6 205.5C591.6 207.8 589.8 208.5 588.7 206.8C587.6 205.1 586.7 200.6 587.7 198.3Z M1036.5 227.6C1038.0 226.7 1041.7 226.2 1043.4 226.7C1045.1 227.2 1044.6 228.3 1043.9 229.7C1043.2 231.1 1042.0 232.5 1040.4 232.7C1038.8 232.9 1037.9 231.8 1037.0 230.6C1036.1 229.4 1035.1 228.5 1036.5 227.6Z M602.9 210.6C605.4 209.9 611.6 208.0 613.9 209.3C616.1 210.6 615.1 215.4 612.6 216.1C610.0 216.8 605.2 213.6 602.9 212.3C600.6 211.0 600.3 211.3 602.9 210.6Z M860.0 330.9C861.4 330.4 863.5 333.4 865.2 336.0C866.9 338.7 867.6 340.1 867.4 342.4C867.2 344.7 866.0 344.8 864.5 345.8C862.9 346.8 861.9 348.5 860.7 346.7C859.5 344.9 859.4 341.8 859.2 338.2C859.1 334.5 858.6 331.4 860.0 330.9Z M1011.3 395.6C1010.6 393.6 1012.1 389.9 1011.6 387.1C1011.1 384.3 1008.7 386.7 1009.1 383.7C1009.4 380.7 1011.5 378.2 1013.1 374.3C1014.6 370.5 1012.9 368.6 1015.7 367.1C1018.5 365.6 1021.3 368.3 1025.3 367.9C1029.3 367.5 1031.9 364.8 1032.8 365.4C1033.7 366.0 1032.7 369.3 1029.1 370.5C1025.6 371.7 1021.1 369.2 1017.7 370.5C1014.3 371.8 1014.1 374.6 1014.6 376.0C1015.0 377.4 1016.8 376.5 1019.5 376.5C1022.3 376.5 1026.2 375.0 1026.4 376.0C1026.7 377.0 1021.4 378.3 1020.6 380.7C1019.8 383.1 1022.3 383.5 1023.1 386.2C1023.9 389.0 1024.9 391.2 1024.0 392.6C1023.1 394.0 1020.6 394.3 1019.1 392.2C1017.5 390.1 1018.5 385.4 1017.5 383.7C1016.4 382.0 1015.4 382.2 1014.7 385.0C1014.1 387.7 1015.5 393.1 1014.7 395.6C1013.9 398.1 1012.0 397.6 1011.3 395.6Z M919.0 348.4C920.8 348.0 923.2 347.5 927.5 350.1C931.8 352.7 933.7 356.3 937.3 359.4C941.0 362.6 940.0 360.7 943.1 363.7C946.3 366.7 948.2 368.2 950.9 372.2C953.6 376.2 952.4 377.4 954.6 380.7C956.7 384.0 959.1 382.5 960.2 386.2C961.2 390.0 960.4 394.4 959.0 396.9C957.6 399.3 957.1 398.7 954.1 396.9C951.0 395.1 949.4 393.5 946.0 389.2C942.5 384.9 942.2 383.0 939.4 378.6C936.5 374.1 936.4 374.0 933.7 370.1C931.0 366.1 931.0 365.8 927.8 361.6C924.6 357.3 922.0 354.9 919.9 351.8C917.9 348.7 917.3 348.8 919.0 348.4Z M1007.9 265.0C1009.1 265.5 1010.1 266.9 1010.1 270.1C1010.1 273.3 1009.2 277.6 1008.0 278.6C1006.7 279.6 1005.3 276.9 1004.6 274.4C1003.9 271.9 1004.1 270.2 1004.8 268.0C1005.6 265.8 1006.7 264.5 1007.9 265.0Z M1066.1 545.2C1069.3 543.8 1076.0 544.4 1078.1 545.6C1080.3 546.9 1077.8 548.0 1075.4 550.7C1073.0 553.3 1070.6 555.5 1067.8 557.0C1065.0 558.5 1064.2 558.3 1063.4 557.0C1062.6 555.7 1063.8 554.3 1064.4 551.5C1065.0 548.8 1062.9 546.6 1066.1 545.2Z M1025.1 416.0C1025.7 414.8 1028.0 412.4 1031.3 410.5C1034.5 408.6 1037.8 407.7 1039.1 407.9C1040.4 408.1 1039.3 409.5 1036.9 411.3C1034.6 413.1 1031.7 414.5 1029.0 415.6C1026.2 416.7 1024.6 417.2 1025.1 416.0Z M677.2 373.1C678.3 370.5 679.6 370.4 681.8 370.5C683.9 370.6 685.7 371.1 686.4 373.5C687.1 375.9 686.1 378.2 684.8 380.7C683.6 383.2 682.8 383.9 681.0 384.1C679.2 384.3 678.1 384.1 677.2 381.6C676.3 379.0 676.1 375.6 677.2 373.1Z M1018.8 322.0C1019.6 321.0 1021.5 321.5 1022.8 323.3C1024.0 325.1 1024.4 327.7 1024.1 329.7C1023.8 331.7 1022.7 332.3 1021.6 331.8C1020.5 331.3 1020.0 329.8 1019.4 327.5C1018.7 325.3 1018.0 323.0 1018.8 322.0Z M1027.2 319.0C1028.0 317.5 1030.8 317.7 1031.9 319.9C1033.0 322.1 1032.7 326.9 1032.0 328.4C1031.2 329.9 1029.8 328.4 1028.7 326.3C1027.6 324.1 1026.5 320.5 1027.2 319.0Z"/>
<path stroke="#a0ccd9" stroke-width="1" d="M177.9 84.1L170.6 89.7L163.5 95.5L155.4 101.7L148.7 107.2L142.3 112.8L134.5 119.5L140.1 119.8L139.9 124.2L149.1 121.8L147.3 130.8L150.7 136.4L145.7 141.6 M150.6 164.2L155.6 164.5L160.4 164.5L165.7 164.5L171.1 164.2L176.2 164.7L181.2 164.7L186.3 164.6L191.6 164.6L196.8 164.3L202.1 164.1L206.9 164.2L212.1 164.6L217.5 164.5L222.1 165.0L227.4 164.3L232.9 164.3L238.4 164.3L242.6 164.7L245.1 163.5L252.8 166.9L260.2 168.7 M272.8 175.2L278.0 179.9L274.4 189.5L269.9 193.0L271.3 195.2L278.3 192.7L285.7 190.1L286.7 188.2L296.6 184.6L303.6 180.9L309.6 180.7L315.0 180.7L319.6 178.2L327.4 170.9L330.7 171.4L328.7 177.9L330.8 181.2 M132.4 233.7L141.7 232.9L146.4 236.2L152.3 239.5L162.8 239.0L163.9 236.5L169.3 237.2L174.1 246.3L178.4 248.8L181.3 245.2L186.8 247.2L189.9 254.9L197.1 262.3 M207.3 310.1L208.2 307.9L210.2 303.9L215.5 304.1L213.8 298.7L213.9 296.8L220.3 296.7L224.7 294.0 M220.3 296.6L219.2 304.9L222.5 305.4 M215.3 314.0L217.7 311.1L219.3 308.0L224.1 315.5 M225.0 316.6L231.1 313.5L237.0 309.3L242.0 308.0 M230.3 325.2L238.0 326.2 M240.9 338.2L242.2 331.8 M285.5 322.1L280.5 325.4L278.5 333.3L280.9 341.5L289.1 342.6L298.6 346.1L297.8 352.7L299.8 363.8L300.3 367.1 M300.3 367.1L308.1 368.9L311.8 363.6L312.0 355.6L319.7 354.7L323.4 353.3L324.7 349.9 M324.7 350.4L322.8 346.2L327.7 336.0 M324.1 349.6L328.2 353.3L329.1 362.7L334.3 366.1L340.3 364.5L348.3 362.5L355.5 362.8L358.9 354.9 M338.1 347.4L337.6 358.5L340.6 364.0 M350.0 347.5L348.1 357.6L348.2 362.5 M300.9 366.8L290.2 367.8L288.5 371.9L290.6 376.5L290.1 383.7L289.0 390.2 M288.5 389.8L279.3 382.0L273.5 376.6L268.9 373.0L261.5 370.7L255.0 366.4 M268.8 372.8L268.1 378.4L258.9 385.4L254.5 393.0L249.6 391.3L249.4 386.3 M288.6 389.8L282.9 391.3L277.7 393.9L274.6 403.4L279.5 412.2L287.3 413.0L287.7 419.3L291.8 419.4 M292.6 419.4L295.7 425.8L295.2 435.7L294.4 440.3L294.2 446.1L291.4 450.6 M292.2 418.6L298.2 418.9L307.7 413.5L309.9 422.9L315.7 426.4L321.2 428.8L327.9 430.6L329.7 440.9L336.2 441.2L337.7 446.7L339.4 453.3L338.7 457.5 M338.7 457.2L332.7 454.0L324.6 455.7L322.4 466.4 M322.6 466.8L316.2 467.1L309.0 464.7L305.6 468.8 M295.1 447.0L299.5 455.4L301.5 464.1L306.0 468.9 M306.3 469.6L302.8 478.8L302.7 489.2L300.5 499.6L302.5 506.0L304.4 512.8L304.5 519.3L305.6 525.4L306.9 536.0L307.7 547.0L310.3 553.0L312.6 558.7L314.5 565.2L317.1 571.8L317.8 581.5L323.1 587.9L333.2 592.4L338.6 593.3 M338.3 457.0L340.7 466.0L348.4 466.6L350.3 474.5L354.6 474.3L354.7 481.1 M322.7 466.7L334.0 474.7L343.0 479.4L340.4 488.0L350.3 488.0L354.7 480.6 M354.3 481.4L358.2 487.4L353.0 493.0L346.5 500.2 M346.7 500.2L355.1 503.6L362.8 510.0L364.5 515.7 M346.3 500.2L346.3 510.6L346.7 516.4 M528.8 194.5L530.8 193.8L536.2 194.9L534.4 200.8L533.1 208.1L531.6 214.3 M553.2 187.7L561.7 190.6L569.9 192.3 M569.6 155.7L574.7 160.2L580.1 162.4L581.9 162.4L588.4 164.2L586.2 170.7 M585.9 170.4L580.1 176.2L583.4 177.6L582.6 180.5L585.5 186.6 M572.1 155.1L577.3 155.0L580.9 156.7L581.3 153.2L584.6 150.5L584.8 146.9 M580.3 157.0L582.2 162.4 M590.1 140.8L593.4 140.4 M607.2 144.5L609.1 150.3L610.8 156.3 M610.4 155.9L600.9 158.8L606.4 165.4 M606.7 165.3L603.7 170.9L598.9 170.4L594.3 171.0L593.0 170.3L585.8 170.7 M583.9 177.5L590.2 176.5L596.1 173.6L592.7 170.5 M596.0 173.6L601.5 173.0L606.3 174.8L606.0 178.7 M606.4 174.6L614.1 173.2L617.7 168.5L617.4 166.1L610.4 164.1L607.0 165.7 M610.7 156.7L615.2 159.5L623.1 162.5L629.8 163.3L635.4 164.3 M616.7 166.2L623.2 162.4 M617.3 168.7L623.3 169.3L629.2 169.0L634.9 168.1 M614.1 174.0L616.3 175.5L625.0 177.0L628.7 176.3L635.1 167.4 M606.0 177.9L613.1 179.2L616.0 175.2 M612.5 178.7L614.7 180.8L619.6 181.1L624.5 181.3L625.9 186.9L626.4 194.2L630.0 190.4L637.3 192.7L637.6 184.4L629.3 176.9 M626.3 194.1L630.6 198.1L631.9 202.0L628.9 203.4 M631.0 197.5L638.6 196.3 M635.3 163.9L640.2 157.0L638.5 152.6L638.9 144.7L635.3 142.9L630.0 142.3L625.1 142.3 M638.8 144.2L646.6 137.3L651.2 135.4L649.2 130.5L647.5 123.0L648.7 121.8 M629.0 135.9L633.3 134.9L638.2 135.0L646.2 136.9 M638.3 128.0L643.9 129.2L649.5 130.5 M651.3 135.1L660.4 137.6L666.8 146.4L663.9 152.2 M638.6 154.1L644.1 153.5L650.0 154.2L654.4 153.2L659.2 152.5L664.1 151.5 M664.0 151.9L672.1 151.3L678.3 158.4L687.0 160.0L693.5 162.3L694.3 169.0L688.8 172.2 M635.6 163.8L635.1 167.4L642.8 168.6L649.5 167.5L655.7 178.7L660.6 179.8 M649.6 167.1L657.7 169.0L661.7 175.3 M637.5 184.3L647.0 186.1L652.5 185.1L658.4 186.9 M638.9 196.2L646.2 196.4L650.5 194.9L656.8 194.0 M650.7 194.9L650.2 199.5 M597.3 123.3L600.8 116.1L600.3 108.7L605.7 103.7L608.5 96.4L612.4 89.8L617.2 88.4L623.3 86.1 M623.0 86.4L627.9 88.1L632.2 90.3L633.9 97.5L634.9 98.0 M622.9 86.5L630.2 87.3L637.7 84.1L642.0 82.3L646.9 86.1L651.5 83.7 M646.5 86.3L649.4 93.4L650.9 99.1L652.3 104.9L657.7 109.1L653.0 113.5L648.7 118.2 M704.4 195.4L711.5 197.4L716.9 203.5L715.8 211.8L709.1 214.0L702.8 215.3L696.1 214.8L689.5 215.2L687.5 219.1 M697.4 187.8L702.8 188.9L708.8 191.3L715.0 192.4L721.4 194.9L728.1 194.3 M711.3 197.6L716.2 197.1L721.5 194.2 M717.0 203.1L723.0 206.4L727.6 203.2L731.7 209.0 M715.9 211.5L723.9 223.2L722.1 228.3L731.2 240.3L735.8 244.9 M709.5 213.9L705.7 225.4L698.6 230.1L699.7 236.5L692.4 238.0L696.2 242.9L690.7 245.2L685.5 246.8 M699.5 236.1L705.1 238.4L710.9 240.1L721.2 248.1L728.2 248.0L732.0 244.7L733.3 245.0 M686.8 230.5L689.8 226.8L687.4 225.0 M683.1 239.0L685.1 246.9 M686.7 233.6L686.7 231.0L692.8 231.0L698.7 230.2 M717.5 302.2L721.8 298.6L727.5 298.9L733.0 299.9L739.3 297.0L745.3 293.9L752.1 291.6L757.1 289.2L763.0 287.6L764.9 278.3L762.9 275.7L753.2 274.8L748.5 269.5 M751.8 291.3L756.7 301.4 M762.4 275.8L765.5 270.2L764.5 261.2 M750.4 213.8L755.7 211.9L760.6 209.6L767.0 213.5L772.5 217.0L776.9 216.6 M776.7 216.3L776.3 228.1L780.1 238.0L783.7 245.8L789.9 256.9L785.3 265.0 M783.7 245.2L791.6 245.6L799.5 245.4L804.4 241.1L810.3 236.2L811.0 228.7L814.1 219.2L819.7 217.3L824.5 214.5 M777.2 216.7L782.6 217.0L789.1 217.0L795.6 213.9L801.7 212.8L807.9 213.0L813.5 216.1L818.4 215.0L824.1 214.6 M810.6 271.6L821.1 267.5L817.7 260.7L815.4 254.5L820.4 250.6L825.0 246.3L829.9 240.8L826.4 232.3L834.9 224.1L837.7 221.7 M823.8 214.8L830.6 217.7L837.3 221.3L840.8 227.6L845.1 234.2L854.3 244.1L860.4 246.7L865.8 249.4L874.3 252.0L881.3 253.8L888.9 253.3L896.8 254.1L902.0 253.2L908.6 252.8L914.4 251.3L915.7 254.2 M852.2 250.1L863.3 256.0L870.4 257.5L876.2 258.4L883.3 259.7L881.5 253.1 M882.8 260.0L887.0 268.8L888.9 279.0 M883.6 260.1L889.6 261.2L899.9 266.0L896.5 271.8L901.6 282.7 M889.1 258.6L896.9 257.6 M916.2 254.0L909.4 261.3L907.9 267.7L904.3 273.9L903.1 280.8 M915.9 253.9L923.2 263.7L921.0 270.5L927.4 277.5L935.0 281.1 M935.2 281.8L931.9 285.5L924.4 290.4L924.9 298.1L929.9 304.9L930.8 312.2L932.5 318.6L931.0 329.0 M932.1 285.9L935.8 289.3L936.6 297.4L942.5 296.1L950.4 298.5L954.7 306.7L954.0 311.8L944.4 314.5L946.1 322.3 M938.5 277.1L945.6 284.9L951.1 292.3L960.0 302.8L962.9 309.9 M953.6 311.1L963.0 309.9L963.3 319.7L958.3 325.7L952.5 328.1 M960.3 280.6L952.1 274.8L945.2 275.7L937.9 277.2L935.1 282.0 M937.4 344.7L940.9 347.5L944.9 346.1 M853.2 163.5L860.6 168.2L868.4 173.7L874.7 177.6L881.2 180.9L887.3 183.7L895.4 191.1L901.8 191.4L907.6 191.9L913.8 193.2L919.7 194.3L925.2 194.5L931.0 193.0L936.3 192.0L942.4 190.0L945.4 186.0L942.8 181.4L948.1 178.6L954.0 176.4L959.5 175.2L966.0 174.5L956.0 168.4L945.4 160.6 M853.2 163.4L858.4 159.9L864.2 157.3L869.8 157.8L874.3 157.9L880.0 158.8L884.5 159.1L882.2 151.9L888.6 153.1L895.7 154.3L902.3 156.4L908.6 158.1L915.0 160.2L920.7 160.6L925.7 161.6L931.3 161.6L936.1 162.4L940.9 161.2L945.7 161.2 M945.5 161.2L950.2 161.0L955.1 160.2L953.8 149.4L954.3 147.2L961.3 147.5L967.6 147.7L975.8 154.1L983.1 160.3L990.1 163.0L997.5 165.2L1007.3 169.1L1012.2 166.5L1014.0 173.3L1014.8 180.7L1008.7 181.6L1012.8 191.9 M1012.6 191.4L1004.5 193.3L1001.1 195.4L996.6 202.5 M1008.7 211.3L1013.2 208.3 M853.6 164.1L849.5 172.8L845.0 176.0L841.1 179.4L837.5 190.4L837.9 193.2L833.5 196.3L827.9 198.7L823.4 201.1L818.4 204.0L824.4 214.4 M726.0 174.4L717.8 167.9L716.9 160.3L722.4 157.5L727.8 153.6L734.9 155.4L741.9 156.7L747.2 157.2L752.0 157.5L757.0 157.6L762.5 154.6L758.0 145.0L763.7 144.4L768.4 143.4L773.2 142.2L778.0 140.4L783.1 139.0L789.9 143.5L798.5 144.3L803.6 143.8L808.7 143.3L816.0 149.9L824.5 156.5L829.7 156.1L835.4 156.2L843.7 160.3L851.9 163.8 M741.9 194.3L748.7 195.9L754.3 196.2L753.0 188.8L751.2 180.8L759.5 178.4L770.0 184.5L773.4 187.0L783.3 186.7L788.5 193.5L797.1 198.9L805.0 192.9L805.5 191.4L813.9 190.0L821.7 190.0L830.4 191.7L838.1 192.9 M754.9 196.4L762.2 190.7L768.0 194.9L776.6 202.6L786.8 206.7L794.9 213.2 M797.1 198.7L806.4 201.8L812.4 203.3L818.5 203.8 M795.3 213.1L799.1 208.3L797.0 198.4 M806.9 201.8L802.8 198.9L805.3 191.1 M551.1 222.6L553.7 234.1L544.3 240.1L537.0 245.7L530.8 248.2L525.3 250.5L524.8 256.5 M525.4 254.1L519.6 254.4L514.4 254.6L508.6 254.8 M525.0 256.4L524.3 261.2L518.4 261.1L512.6 261.4L512.2 272.2L508.0 273.9L507.8 282.0L500.8 282.0L493.0 281.3 M524.7 255.9L532.1 260.8L538.7 265.7L532.6 266.2L533.4 272.6L533.4 279.9L534.6 288.0L535.1 294.3L535.8 302.4L535.4 306.2L527.8 306.6L520.0 307.2L512.6 305.9L510.2 308.8 M538.7 266.0L544.8 269.7L549.7 274.0L555.2 277.9L560.9 282.3L568.8 291.4L572.0 291.1L578.8 288.3L584.6 284.3L590.3 280.2L596.3 276.3L601.5 272.1 M589.0 215.4L587.3 223.3L584.7 228.3L590.7 235.8L592.4 243.6L592.7 251.7L594.1 259.9L597.4 265.4L601.3 272.7 M592.2 243.1L599.4 234.3L599.5 231.4 M601.7 271.8L606.6 273.2L612.9 274.2L618.0 277.3L623.9 279.8L629.8 281.8L635.0 284.0L640.6 286.8L646.5 289.7 M648.9 237.2L648.7 244.3L649.0 250.7L649.6 257.5L649.9 264.6L649.7 271.4L649.9 278.3L650.4 287.1L646.2 287.0L646.6 289.1 M649.7 278.9L656.4 278.3L662.5 278.2L669.5 279.0L675.6 278.7L681.5 278.9L688.0 279.1L694.7 278.7 M612.5 274.0L615.0 282.9L614.5 291.5L614.6 299.9L611.0 307.5L607.2 314.3 M607.3 313.5L601.0 314.7L594.4 315.5L588.5 316.6L582.4 316.8L577.3 315.6L571.2 314.2L569.5 322.4 M572.6 290.5L572.2 302.5L569.2 306.5L563.6 307.9L557.3 308.0L556.6 308.4L564.5 319.1L569.9 322.3 M570.1 322.2L567.9 330.4L566.6 338.4L566.1 345.3 M559.3 325.3L560.0 332.3L561.2 339.1L562.2 345.8 M555.9 324.8L557.9 336.1L560.2 345.8 M545.1 325.5L545.8 331.4L544.5 341.5L543.9 350.0 M535.1 327.5L545.2 329.3L545.0 325.2L556.4 325.2L559.8 325.3L564.3 319.9 M535.3 328.1L535.3 321.5L539.4 316.5L548.7 312.2L556.8 308.7 M534.9 328.0L525.5 328.5L523.7 323.5L513.3 319.8L510.2 309.1 M525.5 328.6L525.0 336.1L523.4 340.3L525.8 346.2L527.1 353.7 M505.5 333.2L516.4 330.2L516.9 335.9L511.7 342.9 M517.0 336.2L523.4 340.0 M494.0 304.6L503.8 301.4L509.8 309.5L512.6 319.6L504.6 318.7L498.9 319.4L492.5 319.5 M503.9 319.0L504.2 322.6L499.3 325.7 M609.0 316.5L610.0 319.4L607.6 325.8L605.0 331.7L599.4 343.6L588.3 352.2 M609.9 319.4L614.7 329.7L608.9 330.0L614.6 339.9L611.0 348.9L614.3 355.5L617.1 362.4 M593.3 362.8L599.1 362.9L606.9 363.1L617.1 363.3 M592.4 368.1L598.6 367.6L599.3 363.1 M606.8 362.4L611.2 374.5L611.0 380.8L601.7 382.2L604.1 388.6L598.2 388.7 M616.7 362.6L626.5 357.3L625.7 365.3L624.8 372.1L618.4 379.5L616.3 388.8L610.9 393.0L605.7 391.9L602.3 396.6 M614.8 339.8L621.6 337.1L628.1 334.1L635.2 329.4L642.8 325.9L647.1 317.8L641.2 312.9L646.8 305.5L647.0 296.9L646.9 289.1 M626.8 357.6L634.6 355.7L641.7 354.5L652.7 351.1L660.4 350.5 M642.3 326.2L647.7 334.8L653.4 343.0L660.5 350.7 M647.4 335.1L654.9 333.8L662.1 333.0L669.7 326.5L677.4 321.0L684.9 330.1L685.4 336.3 M686.1 335.8L681.2 339.5L690.1 349.2L685.4 354.0 M685.8 353.9L679.8 355.6L674.1 356.1L667.6 353.8L660.3 350.6 M685.6 336.3L688.3 326.3L692.7 317.9L694.4 310.9L696.0 299.9L700.9 295.9 M694.6 311.2L699.1 308.8L707.7 310.2L717.1 318.6L719.4 318.0 M716.4 318.9L714.7 325.7L719.0 325.2L719.2 332.0L727.0 334.9L732.6 337.1L738.3 338.0L732.6 344.5L727.4 351.1L721.6 352.8L715.6 354.9L712.1 356.0 M719.3 325.6L720.0 323.7 M712.1 355.4L706.8 357.8L700.4 356.8L693.1 353.1L685.4 354.8 M712.3 356.0L712.7 362.5L712.4 369.4L712.2 376.5L714.9 379.7 M685.3 354.5L686.2 361.3L687.3 367.5L686.0 372.4L685.9 376.9L692.5 380.3L699.0 385.3L705.6 392.0 M674.5 356.8L673.0 362.9L670.9 370.7L668.9 378.6 M685.6 376.4L679.1 376.3L673.8 376.6L668.8 378.3L666.9 383.3L668.4 391.0L668.5 399.5L672.4 407.0 M673.5 376.5L671.9 382.0L666.1 383.5 M672.3 382.2L672.4 389.0L668.0 391.0 M673.0 407.9L680.9 411.9L685.6 412.4L686.9 421.2L698.7 422.0L709.3 417.0 M672.8 407.8L664.0 410.0L664.1 417.7L663.6 425.4L668.6 429.6L658.7 423.0L653.2 421.7L646.8 421.6L647.2 427.7L639.8 427.5L639.3 434.4L639.1 441.0L644.2 446.6 M647.4 420.8L640.7 419.6L640.0 411.3L638.9 403.7L630.2 401.9L623.1 406.3L619.3 397.7L611.9 396.9L605.8 397.4L602.0 397.7 M600.4 445.4L609.0 446.2L615.0 446.5L620.4 446.1L625.9 446.6L635.3 449.2L644.3 447.2L651.3 447.4 M635.6 448.3L635.6 457.5L634.8 465.3L631.4 465.6L631.5 477.8L631.1 485.5L630.6 493.5L625.1 492.6L620.0 491.7L618.2 494.1 M630.9 477.6L638.2 483.8L644.5 483.2L650.9 482.2L657.5 473.1L666.1 466.5L673.6 467.9L677.8 462.8L680.4 456.7L680.2 449.3L679.5 443.0L670.9 438.6 M651.4 447.9L658.0 448.3L665.7 439.8L671.4 438.7 M651.8 447.5L653.7 454.9L660.4 459.7L666.6 466.4 M673.6 468.0L676.2 476.6L675.6 486.5L678.7 487.1 M656.4 497.9L662.7 494.0L665.2 498.1L660.5 502.8L657.2 500.6L656.2 497.8 M671.2 438.3L670.5 435.5L676.4 433.5L682.2 432.2L680.9 423.6L681.3 412.6 M681.7 431.7L686.6 434.1L692.0 442.4L688.6 444.9L688.1 437.0L687.6 428.9L686.9 421.7 M1093.5 383.2L1093.4 390.2L1093.1 397.0L1092.4 404.2L1091.8 411.3 M974.1 363.3L979.8 367.5L986.7 366.0L993.5 365.5L996.8 359.5L997.1 353.5L1003.9 354.5 M991.2 352.6L995.1 354.0L994.5 351.4 M1027.8 412.6L1030.9 411.8"/>
</svg><!--MAPEND-->
<div class="panel" id="pl"></div>
<div class="panel" id="pr"></div>

<svg id="shapes" class="abs" style="left:0;top:0;" width="1231" height="573" viewBox="0 0 1231 573">
  <!-- left chart -->
  <rect x="76.6" y="243.6" width="457" height="236.2" fill="none" stroke="#2e2e2e" stroke-width="1.2"/>
  <rect x="88" y="459" width="434" height="1" fill="#d6dce1"/>
  <rect x="125.2" y="377.1" width="70.8" height="82" fill="#bf9003"/>
  <rect x="270.1" y="357.6" width="70.2" height="101.5" fill="#183c4b"/>
  <rect x="414" y="289.3" width="70.5" height="169.8" fill="#0581b3"/>
  <!-- right chart -->
  <rect x="643" y="190.8" width="469.6" height="324.9" fill="none" stroke="#2e2e2e" stroke-width="1.2"/>
  <rect x="653" y="216.1" width="213.8" height="20.9" fill="#9fe0fb"/>
  <rect x="653" y="253.5" width="241" height="21.2" fill="#183c4b"/>
  <rect x="653" y="290.6" width="308.4" height="20.9" fill="#bf9003"/>
  <rect x="653" y="328" width="421.9" height="20.9" fill="#0581b3"/>
  <rect x="653" y="365.5" width="322" height="20.9" fill="#33a3a2"/>
  <rect x="653" y="402.9" width="372.4" height="20.7" fill="#2f7a9c"/>
  <!-- legend markers -->
  <rect x="667.9" y="472.2" width="5.9" height="5.9" fill="#2f7a9c"/>
  <rect x="764.1" y="472.2" width="5.9" height="5.9" fill="#33a3a2"/>
  <rect x="817.7" y="472.2" width="5.9" height="5.9" fill="#0581b3"/>
  <rect x="896" y="472.2" width="5.9" height="5.9" fill="#bf9003"/>
  <rect x="987.6" y="472.2" width="5.7" height="5.9" fill="#183c4b"/>
  <rect x="1065.6" y="472.2" width="5.9" height="5.9" fill="#9fe0fb"/>
</svg>
<!-- Title -->
<div class="abs" id="title" style="left:73.5px;top:21.2px;font-size:37px;font-weight:bold;font-style:italic;"><span id="ta" style="color:#183c4e;letter-spacing:0.17px;">Collectibles Market</span><span id="tb" style="color:#3a3b3d;letter-spacing:-0.39px;margin-left:1.5px;"> 2018 to 2032</span></div>

<!-- Logo -->
<svg class="abs" id="logo" style="left:930px;top:26px;" width="40" height="36" viewBox="0 0 40 36">
  <circle cx="18.9" cy="17.8" r="11.5" fill="none" stroke="#4f6478" stroke-width="3.2"/>
  <path d="M6.0 20.5 L5.8 29.6 L12.2 27.2 Z" fill="#4f6478"/>
  <rect x="11.3" y="17.3" width="3.4" height="9.5" fill="#2bb3d4"/>
  <rect x="17" y="13.7" width="3.5" height="14" fill="#2bb3d4"/>
  <rect x="22.6" y="8" width="3.4" height="20" fill="#4f6478"/>
</svg>
<div class="abs" id="cred" style="left:966.5px;top:32px;font-size:16.5px;"><span style="color:#2bb3d4;letter-spacing:-0.03px;">Credence</span><span style="color:#5b6b7a;letter-spacing:-0.2px;"> Research</span></div>
<div class="abs" id="tag" style="left:967px;top:50.5px;font-size:5.5px;font-weight:bold;color:#4a5562;letter-spacing:2.37px;">Actionable Insights Delivered</div>

<!-- Left panel text -->
<div class="abs" id="s1" style="left:176.8px;top:133.5px;font-size:14.5px;color:#2e2e2e;letter-spacing:-0.1px;">Global Market Size, 2018, 2024 and 2032</div>
<div class="abs" id="s2" style="left:254.5px;top:155px;font-size:16px;font-weight:bold;color:#111;letter-spacing:0.65px;-webkit-text-stroke:0.25px #111;">(USD Million)</div>

<!-- Left chart -->
<div class="abs dl" id="d1" style="left:135.9px;top:361.6px;">245,300.00</div>
<div class="abs dl" id="d2" style="left:280.0px;top:342.2px;">303,625.44</div>
<div class="abs dl" id="d3" style="left:424.5px;top:273.85px;letter-spacing:-0.2px;">507,055.21</div>
<div class="abs yl" id="y1" style="left:151.8px;top:466.6px;">2018</div>
<div class="abs yl" id="y2" style="left:295.9px;top:466.6px;">2024</div>
<div class="abs yl" id="y3" style="left:440px;top:466.6px;">2032</div>

<!-- Right panel -->
<div class="abs" id="s3" style="left:790px;top:134.9px;font-size:17px;font-weight:bold;color:#111;letter-spacing:0.7px;-webkit-text-stroke:0.25px #111;">CAGR by Region, %</div>
<div class="abs dl" style="left:873.6px;top:221.7px;letter-spacing:-0.55px;">3.9%</div>
<div class="abs dl" style="left:901.6px;top:259.1px;letter-spacing:-0.55px;">4.4%</div>
<div class="abs dl" style="left:968.5px;top:296.2px;letter-spacing:-0.55px;">5.6%</div>
<div class="abs dl" style="left:1081.5px;top:333.6px;letter-spacing:-0.55px;">7.6%</div>
<div class="abs dl" style="left:982.1px;top:371.1px;letter-spacing:-0.55px;">5.8%</div>
<div class="abs dl" style="left:1032.5px;top:408.5px;letter-spacing:-0.55px;">6.7%</div>

<!-- Legend -->
<div class="abs lg" style="left:677px;top:469.5px;letter-spacing:0.75px;">North America</div>
<div class="abs lg" style="left:772.4px;top:469.5px;letter-spacing:0.33px;">Europe</div>
<div class="abs lg" style="left:826.4px;top:469.5px;letter-spacing:0.46px;">Asia Pacific</div>
<div class="abs lg" style="left:904.4px;top:469.5px;letter-spacing:0.76px;">Latin America</div>
<div class="abs lg" style="left:996.6px;top:469.5px;letter-spacing:0.48px;">Middle East</div>
<div class="abs lg" style="left:1075px;top:469.5px;letter-spacing:0.5px;">Africa</div>
</body>
</html>
